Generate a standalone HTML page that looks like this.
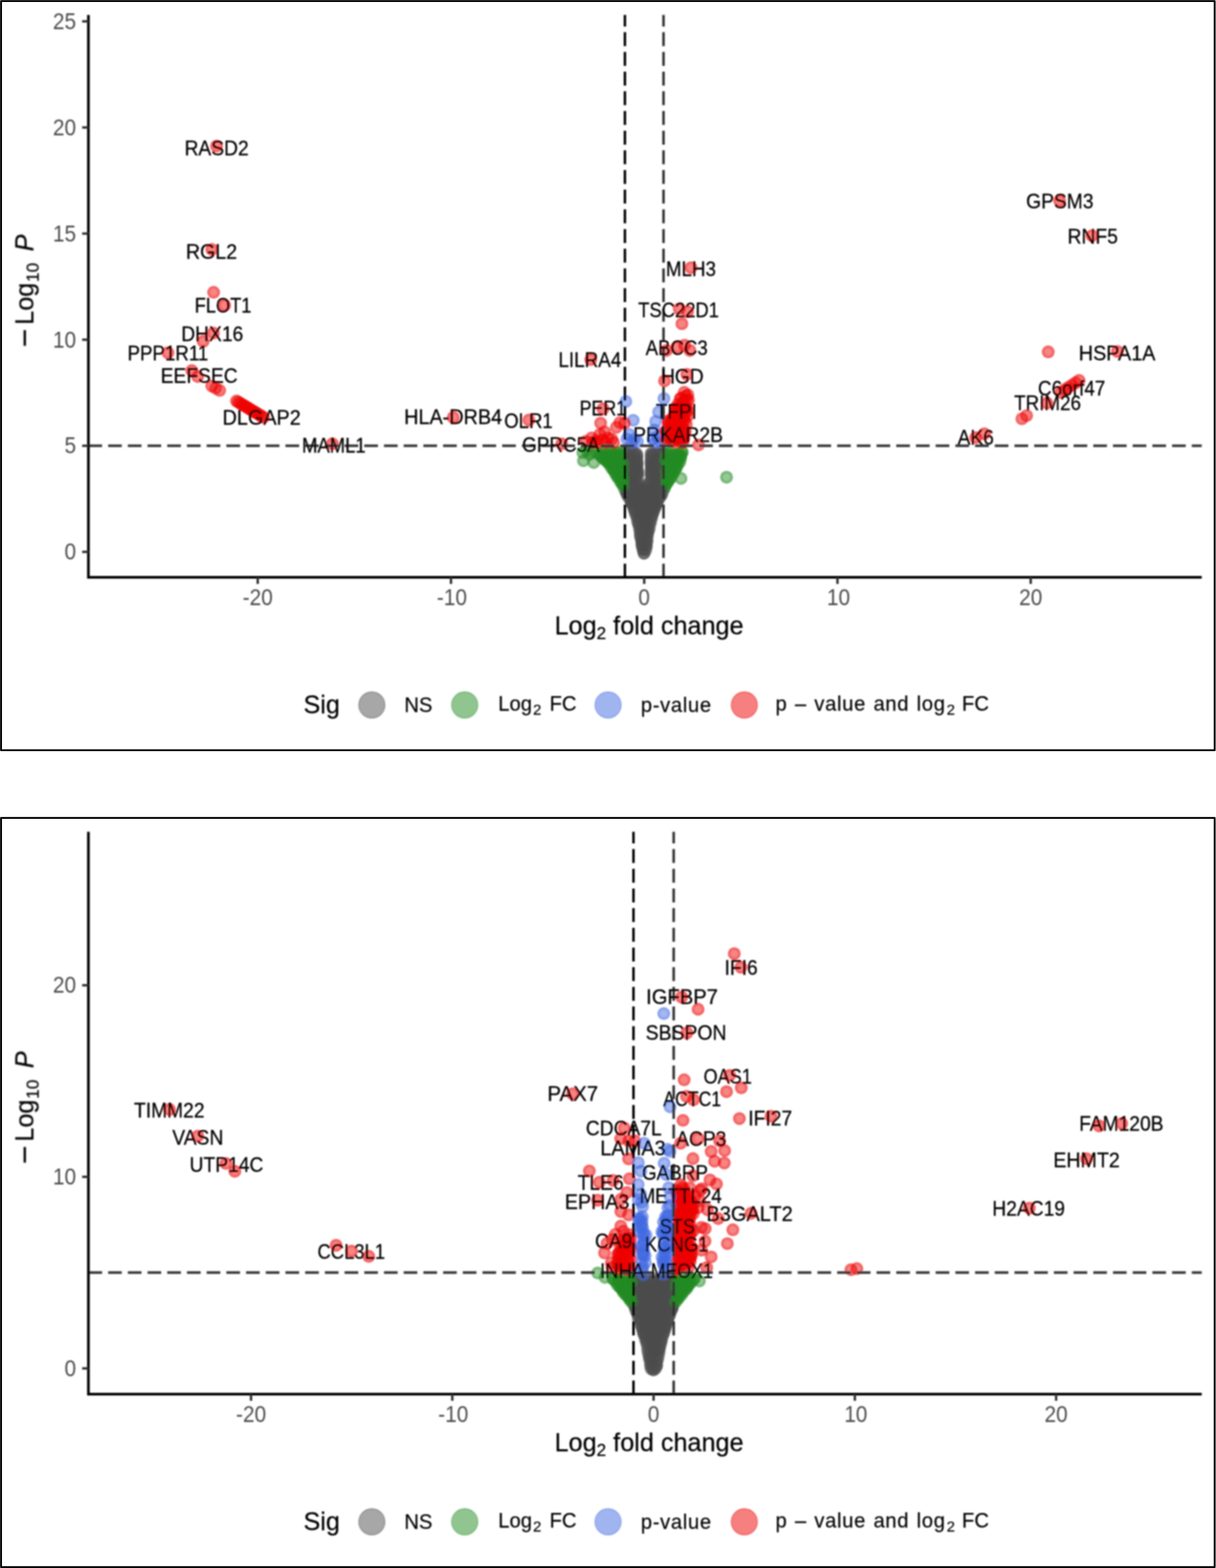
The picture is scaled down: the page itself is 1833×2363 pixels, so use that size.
<!DOCTYPE html>
<html lang="en"><head><meta charset="utf-8"><title>Volcano plots</title>
<style>
html,body{margin:0;padding:0;background:#fff;}
body{width:1833px;height:2363px;overflow:hidden;}
svg{display:block;font-family:"Liberation Sans", sans-serif;}
.border{fill:none;stroke:#000;stroke-width:2.8;stroke-linejoin:round;}
.axis{fill:none;stroke:#000;stroke-width:4;stroke-linecap:butt;stroke-linejoin:miter;}
.tick{stroke:#2b2b2b;stroke-width:3.5;}
.dash{stroke:#111;stroke-width:3.5;stroke-dasharray:21 8.66;}
.dl{stroke:#000;stroke-width:3.7;}
.dr{stroke:#333;stroke-width:3.8;}
.dh{stroke:#3a3a3a;stroke-width:3.9;stroke-dasharray:20.6 9.1;}
.ytl{font-size:31.4px;fill:#4d4d4d;text-anchor:end;}
.xtl{font-size:31.4px;fill:#4d4d4d;text-anchor:middle;}
.ttl{font-size:38px;fill:#000;stroke:#000;stroke-width:.3;}
.sub{font-size:26px;}
.leg{font-size:30.5px;fill:#000;stroke:#000;stroke-width:.25;}
.subl{font-size:22.5px;}
.lc{letter-spacing:1px;word-spacing:1.8px;}
.mn{font-size:48px;}

.lab{font-size:29px;fill:#000;text-anchor:middle;stroke:#000;stroke-width:.35;}
.g0{fill:#4d4d4d;stroke:#4d4d4d;}
.g1{fill:#228b22;stroke:#228b22;}
.g2{fill:#4169e1;stroke:#4169e1;}
.g3{fill:#ee0000;stroke:#ee0000;}
.lg{fill-opacity:.5;stroke-opacity:.4;stroke-width:1.6;}
.p0{fill:url(#r0);}
.p1{fill:url(#r1);}
.p2{fill:url(#r2);}
.p3{fill:url(#r3);}
.chart{filter:url(#bl);}
</style></head>
<body>
<svg width="1833" height="2363" viewBox="0 0 1833 2363">
<defs><radialGradient id="r0"><stop offset="0" stop-color="#4d4d4d" stop-opacity=".48"/><stop offset=".5" stop-color="#4d4d4d" stop-opacity=".48"/><stop offset=".64" stop-color="#4d4d4d" stop-opacity=".6"/><stop offset="1" stop-color="#4d4d4d" stop-opacity=".6"/></radialGradient><radialGradient id="r1"><stop offset="0" stop-color="#228b22" stop-opacity=".48"/><stop offset=".5" stop-color="#228b22" stop-opacity=".48"/><stop offset=".64" stop-color="#228b22" stop-opacity=".6"/><stop offset="1" stop-color="#228b22" stop-opacity=".6"/></radialGradient><radialGradient id="r2"><stop offset="0" stop-color="#4169e1" stop-opacity=".48"/><stop offset=".5" stop-color="#4169e1" stop-opacity=".48"/><stop offset=".64" stop-color="#4169e1" stop-opacity=".6"/><stop offset="1" stop-color="#4169e1" stop-opacity=".6"/></radialGradient><radialGradient id="r3"><stop offset="0" stop-color="#ee0000" stop-opacity=".48"/><stop offset=".5" stop-color="#ee0000" stop-opacity=".48"/><stop offset=".64" stop-color="#ee0000" stop-opacity=".6"/><stop offset="1" stop-color="#ee0000" stop-opacity=".6"/></radialGradient><filter id="bl" x="0" y="0" width="1833" height="2363" filterUnits="userSpaceOnUse"><feGaussianBlur stdDeviation="0.9"/></filter></defs>
<rect x="0" y="0" width="1833" height="2363" fill="#fff"/>
<g class="chart">
<circle class="p1" cx="939.6" cy="687.6" r="9.7"/>
<circle class="p1" cx="941.9" cy="687.9" r="9.7"/>
<circle class="p1" cx="939.6" cy="690.6" r="9.7"/>
<circle class="p1" cx="1001.1" cy="692.4" r="9.7"/>
<circle class="p1" cx="939.1" cy="695.5" r="9.7"/>
<circle class="p1" cx="941.2" cy="699.6" r="9.7"/>
<circle class="p1" cx="1001.4" cy="701.8" r="9.7"/>
<circle class="p1" cx="939.6" cy="705.6" r="9.7"/>
<circle class="p1" cx="1002.3" cy="702.9" r="9.7"/>
<circle class="p1" cx="1003.0" cy="709.9" r="9.7"/>
<circle class="p1" cx="939.7" cy="712.4" r="9.7"/>
<circle class="p1" cx="1001.8" cy="712.7" r="9.7"/>
<circle class="p1" cx="939.3" cy="720.3" r="9.7"/>
<circle class="p1" cx="1002.9" cy="720.6" r="9.7"/>
<circle class="p1" cx="941.4" cy="729.4" r="9.7"/>
<circle class="p1" cx="940.9" cy="731.2" r="9.7"/>
<circle class="p1" cx="1001.7" cy="734.1" r="9.7"/>
<circle class="p1" cx="941.6" cy="737.4" r="9.7"/>
<circle class="p1" cx="1001.0" cy="737.0" r="9.7"/>
<circle class="p1" cx="1003.0" cy="732.0" r="9.7"/>
<circle class="p0" cx="942.4" cy="681.8" r="9.7"/>
<circle class="p0" cx="946.2" cy="682.9" r="9.7"/>
<circle class="p0" cx="952.2" cy="681.6" r="9.7"/>
<circle class="p0" cx="955.6" cy="681.8" r="9.7"/>
<circle class="p0" cx="982.9" cy="683.6" r="9.7"/>
<circle class="p0" cx="990.3" cy="681.6" r="9.7"/>
<circle class="p0" cx="999.3" cy="682.5" r="9.7"/>
<circle class="p0" cx="946.4" cy="687.9" r="9.7"/>
<circle class="p0" cx="952.6" cy="685.7" r="9.7"/>
<circle class="p0" cx="957.6" cy="688.2" r="9.7"/>
<circle class="p0" cx="986.1" cy="685.5" r="9.7"/>
<circle class="p0" cx="989.6" cy="685.1" r="9.7"/>
<circle class="p0" cx="993.6" cy="684.4" r="9.7"/>
<circle class="p0" cx="997.8" cy="684.4" r="9.7"/>
<circle class="p0" cx="944.0" cy="689.0" r="9.7"/>
<circle class="p0" cx="949.7" cy="689.9" r="9.7"/>
<circle class="p0" cx="955.5" cy="691.1" r="9.7"/>
<circle class="p0" cx="988.9" cy="691.5" r="9.7"/>
<circle class="p0" cx="992.9" cy="692.3" r="9.7"/>
<circle class="p0" cx="995.0" cy="691.1" r="9.7"/>
<circle class="p0" cx="943.5" cy="694.0" r="9.7"/>
<circle class="p0" cx="949.8" cy="694.4" r="9.7"/>
<circle class="p0" cx="954.8" cy="697.4" r="9.7"/>
<circle class="p0" cx="955.4" cy="695.4" r="9.7"/>
<circle class="p0" cx="986.9" cy="694.1" r="9.7"/>
<circle class="p0" cx="990.9" cy="695.6" r="9.7"/>
<circle class="p0" cx="995.8" cy="696.4" r="9.7"/>
<circle class="p0" cx="997.7" cy="697.2" r="9.7"/>
<circle class="p0" cx="945.1" cy="701.2" r="9.7"/>
<circle class="p0" cx="952.5" cy="699.2" r="9.7"/>
<circle class="p0" cx="955.7" cy="699.4" r="9.7"/>
<circle class="p0" cx="959.9" cy="699.8" r="9.7"/>
<circle class="p0" cx="982.5" cy="698.7" r="9.7"/>
<circle class="p0" cx="986.0" cy="698.5" r="9.7"/>
<circle class="p0" cx="991.2" cy="698.5" r="9.7"/>
<circle class="p0" cx="995.4" cy="699.2" r="9.7"/>
<circle class="p0" cx="942.0" cy="703.0" r="9.7"/>
<circle class="p0" cx="948.3" cy="705.1" r="9.7"/>
<circle class="p0" cx="952.3" cy="703.7" r="9.7"/>
<circle class="p0" cx="957.8" cy="702.8" r="9.7"/>
<circle class="p0" cx="982.3" cy="705.6" r="9.7"/>
<circle class="p0" cx="984.2" cy="702.8" r="9.7"/>
<circle class="p0" cx="989.6" cy="705.5" r="9.7"/>
<circle class="p0" cx="993.9" cy="703.8" r="9.7"/>
<circle class="p0" cx="999.5" cy="706.6" r="9.7"/>
<circle class="p0" cx="943.2" cy="708.2" r="9.7"/>
<circle class="p0" cx="945.3" cy="710.7" r="9.7"/>
<circle class="p0" cx="951.8" cy="709.1" r="9.7"/>
<circle class="p0" cx="953.2" cy="709.3" r="9.7"/>
<circle class="p0" cx="959.2" cy="711.1" r="9.7"/>
<circle class="p0" cx="989.0" cy="708.4" r="9.7"/>
<circle class="p0" cx="992.9" cy="711.1" r="9.7"/>
<circle class="p0" cx="995.8" cy="708.5" r="9.7"/>
<circle class="p0" cx="945.0" cy="713.1" r="9.7"/>
<circle class="p0" cx="948.5" cy="713.5" r="9.7"/>
<circle class="p0" cx="953.8" cy="712.8" r="9.7"/>
<circle class="p0" cx="956.4" cy="712.9" r="9.7"/>
<circle class="p0" cx="960.6" cy="715.6" r="9.7"/>
<circle class="p0" cx="981.7" cy="714.6" r="9.7"/>
<circle class="p0" cx="987.0" cy="712.4" r="9.7"/>
<circle class="p0" cx="989.5" cy="715.3" r="9.7"/>
<circle class="p0" cx="995.6" cy="715.7" r="9.7"/>
<circle class="p0" cx="996.9" cy="713.1" r="9.7"/>
<circle class="p0" cx="945.6" cy="719.9" r="9.7"/>
<circle class="p0" cx="950.1" cy="720.2" r="9.7"/>
<circle class="p0" cx="954.9" cy="717.2" r="9.7"/>
<circle class="p0" cx="957.7" cy="718.8" r="9.7"/>
<circle class="p0" cx="982.8" cy="720.4" r="9.7"/>
<circle class="p0" cx="985.7" cy="718.6" r="9.7"/>
<circle class="p0" cx="993.2" cy="720.5" r="9.7"/>
<circle class="p0" cx="995.2" cy="717.1" r="9.7"/>
<circle class="p0" cx="944.2" cy="721.5" r="9.7"/>
<circle class="p0" cx="949.2" cy="724.3" r="9.7"/>
<circle class="p0" cx="952.8" cy="721.4" r="9.7"/>
<circle class="p0" cx="957.4" cy="722.7" r="9.7"/>
<circle class="p0" cx="980.4" cy="725.1" r="9.7"/>
<circle class="p0" cx="986.7" cy="721.8" r="9.7"/>
<circle class="p0" cx="990.8" cy="725.0" r="9.7"/>
<circle class="p0" cx="992.4" cy="722.6" r="9.7"/>
<circle class="p0" cx="999.9" cy="721.8" r="9.7"/>
<circle class="p0" cx="944.4" cy="726.7" r="9.7"/>
<circle class="p0" cx="951.1" cy="725.8" r="9.7"/>
<circle class="p0" cx="953.0" cy="727.2" r="9.7"/>
<circle class="p0" cx="958.1" cy="727.2" r="9.7"/>
<circle class="p0" cx="963.2" cy="728.1" r="9.7"/>
<circle class="p0" cx="976.6" cy="729.6" r="9.7"/>
<circle class="p0" cx="981.6" cy="726.3" r="9.7"/>
<circle class="p0" cx="985.6" cy="728.4" r="9.7"/>
<circle class="p0" cx="993.4" cy="729.0" r="9.7"/>
<circle class="p0" cx="996.1" cy="726.8" r="9.7"/>
<circle class="p0" cx="999.1" cy="728.4" r="9.7"/>
<circle class="p0" cx="945.2" cy="730.4" r="9.7"/>
<circle class="p0" cx="947.2" cy="731.3" r="9.7"/>
<circle class="p0" cx="953.8" cy="734.2" r="9.7"/>
<circle class="p0" cx="958.4" cy="731.7" r="9.7"/>
<circle class="p0" cx="963.6" cy="731.7" r="9.7"/>
<circle class="p0" cx="965.5" cy="734.1" r="9.7"/>
<circle class="p0" cx="976.5" cy="734.4" r="9.7"/>
<circle class="p0" cx="980.3" cy="733.8" r="9.7"/>
<circle class="p0" cx="985.8" cy="733.9" r="9.7"/>
<circle class="p0" cx="989.3" cy="733.3" r="9.7"/>
<circle class="p0" cx="994.5" cy="731.6" r="9.7"/>
<circle class="p0" cx="997.6" cy="732.9" r="9.7"/>
<circle class="p0" cx="945.3" cy="737.8" r="9.7"/>
<circle class="p0" cx="950.7" cy="735.8" r="9.7"/>
<circle class="p0" cx="956.6" cy="735.3" r="9.7"/>
<circle class="p0" cx="961.0" cy="735.6" r="9.7"/>
<circle class="p0" cx="962.2" cy="735.8" r="9.7"/>
<circle class="p0" cx="970.0" cy="739.0" r="9.7"/>
<circle class="p0" cx="971.4" cy="737.0" r="9.7"/>
<circle class="p0" cx="978.1" cy="738.2" r="9.7"/>
<circle class="p0" cx="981.4" cy="737.0" r="9.7"/>
<circle class="p0" cx="986.7" cy="738.4" r="9.7"/>
<circle class="p0" cx="990.9" cy="738.8" r="9.7"/>
<circle class="p0" cx="995.6" cy="735.8" r="9.7"/>
<circle class="p0" cx="946.6" cy="741.1" r="9.7"/>
<circle class="p0" cx="954.8" cy="742.8" r="9.7"/>
<circle class="p0" cx="958.4" cy="741.3" r="9.7"/>
<circle class="p0" cx="960.7" cy="742.2" r="9.7"/>
<circle class="p0" cx="965.0" cy="740.4" r="9.7"/>
<circle class="p0" cx="970.7" cy="739.7" r="9.7"/>
<circle class="p0" cx="975.4" cy="742.8" r="9.7"/>
<circle class="p0" cx="981.2" cy="741.6" r="9.7"/>
<circle class="p0" cx="985.5" cy="741.4" r="9.7"/>
<circle class="p0" cx="988.1" cy="742.0" r="9.7"/>
<circle class="p0" cx="993.8" cy="742.6" r="9.7"/>
<circle class="p0" cx="945.3" cy="744.4" r="9.7"/>
<circle class="p0" cx="949.6" cy="745.8" r="9.7"/>
<circle class="p0" cx="953.1" cy="745.9" r="9.7"/>
<circle class="p0" cx="959.4" cy="747.0" r="9.7"/>
<circle class="p0" cx="963.7" cy="745.2" r="9.7"/>
<circle class="p0" cx="967.8" cy="747.2" r="9.7"/>
<circle class="p0" cx="975.3" cy="746.3" r="9.7"/>
<circle class="p0" cx="976.9" cy="747.4" r="9.7"/>
<circle class="p0" cx="982.3" cy="745.0" r="9.7"/>
<circle class="p0" cx="985.8" cy="747.3" r="9.7"/>
<circle class="p0" cx="993.2" cy="746.8" r="9.7"/>
<circle class="p0" cx="996.4" cy="746.5" r="9.7"/>
<circle class="p0" cx="952.9" cy="751.8" r="9.7"/>
<circle class="p0" cx="957.1" cy="752.4" r="9.7"/>
<circle class="p0" cx="962.2" cy="749.8" r="9.7"/>
<circle class="p0" cx="965.5" cy="749.3" r="9.7"/>
<circle class="p0" cx="971.2" cy="749.0" r="9.7"/>
<circle class="p0" cx="975.7" cy="749.3" r="9.7"/>
<circle class="p0" cx="980.4" cy="750.8" r="9.7"/>
<circle class="p0" cx="985.2" cy="752.3" r="9.7"/>
<circle class="p0" cx="987.6" cy="752.2" r="9.7"/>
<circle class="p0" cx="952.2" cy="755.9" r="9.7"/>
<circle class="p0" cx="955.6" cy="755.9" r="9.7"/>
<circle class="p0" cx="960.5" cy="755.8" r="9.7"/>
<circle class="p0" cx="965.0" cy="754.2" r="9.7"/>
<circle class="p0" cx="969.6" cy="755.2" r="9.7"/>
<circle class="p0" cx="974.6" cy="753.7" r="9.7"/>
<circle class="p0" cx="976.8" cy="753.5" r="9.7"/>
<circle class="p0" cx="983.8" cy="757.1" r="9.7"/>
<circle class="p0" cx="987.9" cy="754.9" r="9.7"/>
<circle class="p0" cx="952.7" cy="758.2" r="9.7"/>
<circle class="p0" cx="956.9" cy="760.3" r="9.7"/>
<circle class="p0" cx="961.7" cy="760.7" r="9.7"/>
<circle class="p0" cx="965.1" cy="761.2" r="9.7"/>
<circle class="p0" cx="970.6" cy="760.6" r="9.7"/>
<circle class="p0" cx="976.3" cy="759.7" r="9.7"/>
<circle class="p0" cx="979.9" cy="761.2" r="9.7"/>
<circle class="p0" cx="986.8" cy="761.2" r="9.7"/>
<circle class="p0" cx="989.9" cy="759.1" r="9.7"/>
<circle class="p0" cx="959.1" cy="764.9" r="9.7"/>
<circle class="p0" cx="963.9" cy="764.7" r="9.7"/>
<circle class="p0" cx="967.4" cy="762.7" r="9.7"/>
<circle class="p0" cx="975.6" cy="764.1" r="9.7"/>
<circle class="p0" cx="976.5" cy="765.1" r="9.7"/>
<circle class="p0" cx="983.9" cy="763.2" r="9.7"/>
<circle class="p0" cx="987.7" cy="764.0" r="9.7"/>
<circle class="p0" cx="956.3" cy="767.7" r="9.7"/>
<circle class="p0" cx="962.7" cy="767.2" r="9.7"/>
<circle class="p0" cx="967.5" cy="767.9" r="9.7"/>
<circle class="p0" cx="969.3" cy="771.0" r="9.7"/>
<circle class="p0" cx="974.6" cy="771.0" r="9.7"/>
<circle class="p0" cx="981.9" cy="770.8" r="9.7"/>
<circle class="p0" cx="983.5" cy="769.0" r="9.7"/>
<circle class="p0" cx="960.1" cy="773.8" r="9.7"/>
<circle class="p0" cx="963.4" cy="772.6" r="9.7"/>
<circle class="p0" cx="969.4" cy="774.7" r="9.7"/>
<circle class="p0" cx="974.8" cy="774.1" r="9.7"/>
<circle class="p0" cx="976.9" cy="772.0" r="9.7"/>
<circle class="p0" cx="983.7" cy="773.4" r="9.7"/>
<circle class="p0" cx="963.3" cy="780.2" r="9.7"/>
<circle class="p0" cx="966.1" cy="778.1" r="9.7"/>
<circle class="p0" cx="972.6" cy="778.5" r="9.7"/>
<circle class="p0" cx="975.4" cy="780.2" r="9.7"/>
<circle class="p0" cx="981.5" cy="777.7" r="9.7"/>
<circle class="p0" cx="963.5" cy="781.9" r="9.7"/>
<circle class="p0" cx="967.7" cy="783.1" r="9.7"/>
<circle class="p0" cx="973.0" cy="783.4" r="9.7"/>
<circle class="p0" cx="976.1" cy="782.4" r="9.7"/>
<circle class="p0" cx="964.6" cy="785.7" r="9.7"/>
<circle class="p0" cx="971.5" cy="787.6" r="9.7"/>
<circle class="p0" cx="977.5" cy="788.7" r="9.7"/>
<circle class="p0" cx="962.6" cy="790.8" r="9.7"/>
<circle class="p0" cx="969.0" cy="793.5" r="9.7"/>
<circle class="p0" cx="974.0" cy="793.5" r="9.7"/>
<circle class="p0" cx="976.3" cy="790.2" r="9.7"/>
<circle class="p0" cx="965.4" cy="798.7" r="9.7"/>
<circle class="p0" cx="971.2" cy="795.7" r="9.7"/>
<circle class="p0" cx="975.6" cy="795.3" r="9.7"/>
<circle class="p0" cx="968.3" cy="799.3" r="9.7"/>
<circle class="p0" cx="974.9" cy="802.5" r="9.7"/>
<circle class="p0" cx="977.2" cy="799.5" r="9.7"/>
<circle class="p0" cx="965.3" cy="806.8" r="9.7"/>
<circle class="p0" cx="971.0" cy="804.4" r="9.7"/>
<circle class="p0" cx="975.1" cy="805.9" r="9.7"/>
<circle class="p0" cx="969.0" cy="810.3" r="9.7"/>
<circle class="p0" cx="972.8" cy="810.3" r="9.7"/>
<circle class="p0" cx="967.7" cy="813.7" r="9.7"/>
<circle class="p0" cx="972.3" cy="813.4" r="9.7"/>
<circle class="p0" cx="974.7" cy="814.7" r="9.7"/>
<circle class="p0" cx="967.5" cy="819.2" r="9.7"/>
<circle class="p0" cx="973.4" cy="820.1" r="9.7"/>
<circle class="p0" cx="968.3" cy="823.5" r="9.7"/>
<circle class="p0" cx="970.2" cy="822.4" r="9.7"/>
<circle class="p0" cx="974.4" cy="823.4" r="9.7"/>
<circle class="p0" cx="970.0" cy="828.4" r="9.7"/>
<circle class="p0" cx="971.0" cy="833.5" r="9.7"/>
<circle class="p0" cx="969.2" cy="828.5" r="9.7"/>
<circle class="p0" cx="967.8" cy="822.1" r="9.7"/>
<circle class="p0" cx="967.2" cy="815.4" r="9.7"/>
<circle class="p0" cx="965.5" cy="809.7" r="9.7"/>
<circle class="p0" cx="964.9" cy="803.1" r="9.7"/>
<circle class="p0" cx="964.0" cy="797.0" r="9.7"/>
<circle class="p0" cx="962.8" cy="789.6" r="9.7"/>
<circle class="p0" cx="960.9" cy="785.5" r="9.7"/>
<circle class="p0" cx="960.1" cy="779.6" r="9.7"/>
<circle class="p0" cx="958.0" cy="774.7" r="9.7"/>
<circle class="p0" cx="956.6" cy="769.8" r="9.7"/>
<circle class="p0" cx="955.5" cy="765.6" r="9.7"/>
<circle class="p0" cx="953.2" cy="760.7" r="9.7"/>
<circle class="p0" cx="951.3" cy="757.4" r="9.7"/>
<circle class="p0" cx="949.7" cy="752.3" r="9.7"/>
<circle class="p0" cx="946.6" cy="748.1" r="9.7"/>
<circle class="p0" cx="944.0" cy="742.7" r="9.7"/>
<circle class="p0" cx="970.6" cy="833.7" r="9.7"/>
<circle class="p0" cx="973.6" cy="828.7" r="9.7"/>
<circle class="p0" cx="974.1" cy="821.9" r="9.7"/>
<circle class="p0" cx="975.5" cy="815.8" r="9.7"/>
<circle class="p0" cx="975.8" cy="808.9" r="9.7"/>
<circle class="p0" cx="976.7" cy="803.2" r="9.7"/>
<circle class="p0" cx="978.7" cy="796.7" r="9.7"/>
<circle class="p0" cx="980.1" cy="789.6" r="9.7"/>
<circle class="p0" cx="980.9" cy="784.9" r="9.7"/>
<circle class="p0" cx="982.5" cy="780.0" r="9.7"/>
<circle class="p0" cx="983.3" cy="775.3" r="9.7"/>
<circle class="p0" cx="985.7" cy="770.1" r="9.7"/>
<circle class="p0" cx="987.1" cy="765.5" r="9.7"/>
<circle class="p0" cx="988.5" cy="761.1" r="9.7"/>
<circle class="p0" cx="990.8" cy="757.3" r="9.7"/>
<circle class="p0" cx="992.8" cy="752.4" r="9.7"/>
<circle class="p0" cx="995.6" cy="748.1" r="9.7"/>
<circle class="p0" cx="998.3" cy="743.4" r="9.7"/>
<circle class="p0" cx="961.8" cy="716.6" r="9.7"/>
<circle class="p0" cx="960.2" cy="713.8" r="9.7"/>
<circle class="p0" cx="961.8" cy="711.0" r="9.7"/>
<circle class="p0" cx="960.8" cy="708.2" r="9.7"/>
<circle class="p0" cx="959.5" cy="705.4" r="9.7"/>
<circle class="p0" cx="960.1" cy="702.6" r="9.7"/>
<circle class="p0" cx="960.5" cy="699.8" r="9.7"/>
<circle class="p0" cx="960.1" cy="697.0" r="9.7"/>
<circle class="p0" cx="960.4" cy="694.2" r="9.7"/>
<circle class="p0" cx="959.7" cy="691.5" r="9.7"/>
<circle class="p0" cx="959.4" cy="688.8" r="9.7"/>
<circle class="p0" cx="960.5" cy="686.1" r="9.7"/>
<circle class="p0" cx="959.2" cy="683.4" r="9.7"/>
<circle class="p0" cx="981.6" cy="716.6" r="9.7"/>
<circle class="p0" cx="982.0" cy="713.8" r="9.7"/>
<circle class="p0" cx="981.6" cy="711.0" r="9.7"/>
<circle class="p0" cx="981.4" cy="708.2" r="9.7"/>
<circle class="p0" cx="982.6" cy="705.4" r="9.7"/>
<circle class="p0" cx="981.6" cy="702.6" r="9.7"/>
<circle class="p0" cx="982.7" cy="699.8" r="9.7"/>
<circle class="p0" cx="980.8" cy="697.0" r="9.7"/>
<circle class="p0" cx="981.8" cy="694.2" r="9.7"/>
<circle class="p0" cx="982.4" cy="691.5" r="9.7"/>
<circle class="p0" cx="981.2" cy="688.8" r="9.7"/>
<circle class="p0" cx="983.3" cy="686.1" r="9.7"/>
<circle class="p0" cx="981.5" cy="683.4" r="9.7"/>
<circle class="p1" cx="907.0" cy="683.0" r="9.7"/>
<circle class="p1" cx="912.3" cy="681.7" r="9.7"/>
<circle class="p1" cx="919.2" cy="682.0" r="9.7"/>
<circle class="p1" cx="922.2" cy="681.9" r="9.7"/>
<circle class="p1" cx="927.7" cy="683.0" r="9.7"/>
<circle class="p1" cx="930.5" cy="682.0" r="9.7"/>
<circle class="p1" cx="935.7" cy="680.9" r="9.7"/>
<circle class="p1" cx="1006.9" cy="683.4" r="9.7"/>
<circle class="p1" cx="1008.9" cy="682.7" r="9.7"/>
<circle class="p1" cx="1021.1" cy="683.7" r="9.7"/>
<circle class="p1" cx="1022.9" cy="683.7" r="9.7"/>
<circle class="p1" cx="1028.3" cy="681.7" r="9.7"/>
<circle class="p1" cx="906.5" cy="688.1" r="9.7"/>
<circle class="p1" cx="912.7" cy="685.4" r="9.7"/>
<circle class="p1" cx="914.5" cy="688.1" r="9.7"/>
<circle class="p1" cx="920.9" cy="687.2" r="9.7"/>
<circle class="p1" cx="923.5" cy="684.6" r="9.7"/>
<circle class="p1" cx="930.6" cy="686.1" r="9.7"/>
<circle class="p1" cx="932.6" cy="688.2" r="9.7"/>
<circle class="p1" cx="1004.4" cy="686.6" r="9.7"/>
<circle class="p1" cx="1006.7" cy="686.3" r="9.7"/>
<circle class="p1" cx="1014.4" cy="684.8" r="9.7"/>
<circle class="p1" cx="1018.5" cy="686.1" r="9.7"/>
<circle class="p1" cx="1021.8" cy="687.8" r="9.7"/>
<circle class="p1" cx="1026.0" cy="686.4" r="9.7"/>
<circle class="p1" cx="911.1" cy="691.2" r="9.7"/>
<circle class="p1" cx="912.6" cy="692.9" r="9.7"/>
<circle class="p1" cx="917.5" cy="690.4" r="9.7"/>
<circle class="p1" cx="920.8" cy="690.5" r="9.7"/>
<circle class="p1" cx="927.4" cy="691.0" r="9.7"/>
<circle class="p1" cx="930.9" cy="691.0" r="9.7"/>
<circle class="p1" cx="934.7" cy="690.0" r="9.7"/>
<circle class="p1" cx="1007.0" cy="692.4" r="9.7"/>
<circle class="p1" cx="1010.6" cy="692.6" r="9.7"/>
<circle class="p1" cx="1015.7" cy="691.8" r="9.7"/>
<circle class="p1" cx="1018.4" cy="689.1" r="9.7"/>
<circle class="p1" cx="1022.6" cy="690.4" r="9.7"/>
<circle class="p1" cx="917.0" cy="694.8" r="9.7"/>
<circle class="p1" cx="920.9" cy="693.6" r="9.7"/>
<circle class="p1" cx="923.4" cy="694.6" r="9.7"/>
<circle class="p1" cx="930.5" cy="696.4" r="9.7"/>
<circle class="p1" cx="935.1" cy="694.7" r="9.7"/>
<circle class="p1" cx="1003.3" cy="693.6" r="9.7"/>
<circle class="p1" cx="1005.9" cy="695.6" r="9.7"/>
<circle class="p1" cx="1012.4" cy="694.8" r="9.7"/>
<circle class="p1" cx="1015.7" cy="695.0" r="9.7"/>
<circle class="p1" cx="1021.0" cy="697.0" r="9.7"/>
<circle class="p1" cx="919.2" cy="698.3" r="9.7"/>
<circle class="p1" cx="923.9" cy="700.0" r="9.7"/>
<circle class="p1" cx="928.5" cy="700.8" r="9.7"/>
<circle class="p1" cx="931.2" cy="698.3" r="9.7"/>
<circle class="p1" cx="938.5" cy="698.7" r="9.7"/>
<circle class="p1" cx="1006.7" cy="699.8" r="9.7"/>
<circle class="p1" cx="1009.9" cy="700.3" r="9.7"/>
<circle class="p1" cx="1014.4" cy="699.5" r="9.7"/>
<circle class="p1" cx="1017.7" cy="699.3" r="9.7"/>
<circle class="p1" cx="924.1" cy="706.5" r="9.7"/>
<circle class="p1" cx="930.4" cy="704.0" r="9.7"/>
<circle class="p1" cx="932.9" cy="703.8" r="9.7"/>
<circle class="p1" cx="1007.3" cy="704.5" r="9.7"/>
<circle class="p1" cx="1013.4" cy="703.6" r="9.7"/>
<circle class="p1" cx="1018.4" cy="705.8" r="9.7"/>
<circle class="p1" cx="926.1" cy="707.3" r="9.7"/>
<circle class="p1" cx="931.2" cy="708.8" r="9.7"/>
<circle class="p1" cx="938.6" cy="707.8" r="9.7"/>
<circle class="p1" cx="1004.7" cy="710.3" r="9.7"/>
<circle class="p1" cx="1009.5" cy="708.5" r="9.7"/>
<circle class="p1" cx="1012.8" cy="710.5" r="9.7"/>
<circle class="p1" cx="930.3" cy="714.7" r="9.7"/>
<circle class="p1" cx="935.4" cy="715.4" r="9.7"/>
<circle class="p1" cx="1010.0" cy="714.3" r="9.7"/>
<circle class="p1" cx="1014.4" cy="713.5" r="9.7"/>
<circle class="p1" cx="931.5" cy="717.3" r="9.7"/>
<circle class="p1" cx="937.6" cy="717.4" r="9.7"/>
<circle class="p1" cx="1005.6" cy="716.8" r="9.7"/>
<circle class="p1" cx="939.0" cy="721.3" r="9.7"/>
<circle class="p1" cx="1005.0" cy="722.3" r="9.7"/>
<circle class="p1" cx="1009.3" cy="721.7" r="9.7"/>
<circle class="p1" cx="937.2" cy="727.5" r="9.7"/>
<circle class="p1" cx="1006.0" cy="727.2" r="9.7"/>
<circle class="p1" cx="939.0" cy="731.6" r="9.7"/>
<circle class="p1" cx="936.1" cy="727.2" r="9.7"/>
<circle class="p1" cx="933.3" cy="722.2" r="9.7"/>
<circle class="p1" cx="930.3" cy="718.3" r="9.7"/>
<circle class="p1" cx="927.4" cy="713.3" r="9.7"/>
<circle class="p1" cx="925.1" cy="709.0" r="9.7"/>
<circle class="p1" cx="921.5" cy="704.6" r="9.7"/>
<circle class="p1" cx="918.9" cy="700.0" r="9.7"/>
<circle class="p1" cx="915.6" cy="696.5" r="9.7"/>
<circle class="p1" cx="911.0" cy="692.5" r="9.7"/>
<circle class="p1" cx="907.8" cy="689.2" r="9.7"/>
<circle class="p1" cx="903.2" cy="685.0" r="9.7"/>
<circle class="p1" cx="899.3" cy="681.9" r="9.7"/>
<circle class="p1" cx="1005.6" cy="727.7" r="9.7"/>
<circle class="p1" cx="1009.2" cy="722.5" r="9.7"/>
<circle class="p1" cx="1012.0" cy="718.6" r="9.7"/>
<circle class="p1" cx="1014.7" cy="713.2" r="9.7"/>
<circle class="p1" cx="1016.4" cy="709.4" r="9.7"/>
<circle class="p1" cx="1019.7" cy="705.1" r="9.7"/>
<circle class="p1" cx="1021.4" cy="700.5" r="9.7"/>
<circle class="p1" cx="1024.7" cy="696.3" r="9.7"/>
<circle class="p1" cx="1025.7" cy="691.5" r="9.7"/>
<circle class="p1" cx="1026.5" cy="687.1" r="9.7"/>
<circle class="p1" cx="1028.1" cy="681.6" r="9.7"/>
<circle class="p1" cx="879.5" cy="694.4" r="9.7"/>
<circle class="p1" cx="888.3" cy="684.7" r="9.7"/>
<circle class="p1" cx="1095.2" cy="719.2" r="9.7"/>
<circle class="p1" cx="1026.5" cy="721.0" r="9.7"/>
<circle class="p1" cx="878.5" cy="682.0" r="9.7"/>
<circle class="p1" cx="884.0" cy="678.5" r="9.7"/>
<circle class="p1" cx="895.0" cy="697.0" r="9.7"/>
<circle class="p1" cx="891.0" cy="681.0" r="9.7"/>
<circle class="p2" cx="943.4" cy="605.0" r="9.7"/>
<circle class="p2" cx="954.5" cy="633.4" r="9.7"/>
<circle class="p2" cx="948.5" cy="654.6" r="9.7"/>
<circle class="p2" cx="945.0" cy="661.7" r="9.7"/>
<circle class="p2" cx="960.9" cy="665.2" r="9.7"/>
<circle class="p2" cx="952.0" cy="667.0" r="9.7"/>
<circle class="p2" cx="956.0" cy="662.0" r="9.7"/>
<circle class="p2" cx="1000.8" cy="600.6" r="9.7"/>
<circle class="p2" cx="992.8" cy="620.9" r="9.7"/>
<circle class="p2" cx="988.4" cy="635.1" r="9.7"/>
<circle class="p2" cx="984.0" cy="661.7" r="9.7"/>
<circle class="p2" cx="991.0" cy="658.0" r="9.7"/>
<circle class="p2" cx="986.0" cy="648.0" r="9.7"/>
<circle class="p2" cx="994.0" cy="664.0" r="9.7"/>
<circle class="p2" cx="988.0" cy="667.0" r="9.7"/>
<circle class="p3" cx="1031.5" cy="591.3" r="9.7"/>
<circle class="p3" cx="1036.9" cy="595.2" r="9.7"/>
<circle class="p3" cx="1026.5" cy="599.8" r="9.7"/>
<circle class="p3" cx="1034.1" cy="596.8" r="9.7"/>
<circle class="p3" cx="1025.3" cy="601.2" r="9.7"/>
<circle class="p3" cx="1030.2" cy="604.3" r="9.7"/>
<circle class="p3" cx="1035.4" cy="602.8" r="9.7"/>
<circle class="p3" cx="1037.9" cy="603.1" r="9.7"/>
<circle class="p3" cx="1021.7" cy="609.5" r="9.7"/>
<circle class="p3" cx="1029.2" cy="607.9" r="9.7"/>
<circle class="p3" cx="1030.9" cy="606.2" r="9.7"/>
<circle class="p3" cx="1018.8" cy="614.7" r="9.7"/>
<circle class="p3" cx="1025.0" cy="614.8" r="9.7"/>
<circle class="p3" cx="1027.8" cy="615.0" r="9.7"/>
<circle class="p3" cx="1034.9" cy="614.3" r="9.7"/>
<circle class="p3" cx="1019.3" cy="616.1" r="9.7"/>
<circle class="p3" cx="1022.9" cy="616.8" r="9.7"/>
<circle class="p3" cx="1027.9" cy="619.3" r="9.7"/>
<circle class="p3" cx="1033.4" cy="616.0" r="9.7"/>
<circle class="p3" cx="1036.4" cy="618.4" r="9.7"/>
<circle class="p3" cx="1017.0" cy="622.6" r="9.7"/>
<circle class="p3" cx="1019.6" cy="621.1" r="9.7"/>
<circle class="p3" cx="1023.9" cy="624.1" r="9.7"/>
<circle class="p3" cx="1030.8" cy="621.4" r="9.7"/>
<circle class="p3" cx="1034.3" cy="621.4" r="9.7"/>
<circle class="p3" cx="1013.8" cy="629.8" r="9.7"/>
<circle class="p3" cx="1018.6" cy="628.6" r="9.7"/>
<circle class="p3" cx="1021.1" cy="628.6" r="9.7"/>
<circle class="p3" cx="1029.1" cy="629.3" r="9.7"/>
<circle class="p3" cx="1030.7" cy="629.0" r="9.7"/>
<circle class="p3" cx="1036.8" cy="626.5" r="9.7"/>
<circle class="p3" cx="1006.8" cy="634.1" r="9.7"/>
<circle class="p3" cx="1011.5" cy="634.4" r="9.7"/>
<circle class="p3" cx="1015.4" cy="632.7" r="9.7"/>
<circle class="p3" cx="1021.5" cy="634.3" r="9.7"/>
<circle class="p3" cx="1026.7" cy="632.1" r="9.7"/>
<circle class="p3" cx="1032.1" cy="633.1" r="9.7"/>
<circle class="p3" cx="1007.3" cy="636.8" r="9.7"/>
<circle class="p3" cx="1012.5" cy="639.8" r="9.7"/>
<circle class="p3" cx="1018.3" cy="638.9" r="9.7"/>
<circle class="p3" cx="1022.0" cy="639.3" r="9.7"/>
<circle class="p3" cx="1028.8" cy="638.8" r="9.7"/>
<circle class="p3" cx="1034.5" cy="639.5" r="9.7"/>
<circle class="p3" cx="1007.8" cy="641.2" r="9.7"/>
<circle class="p3" cx="1016.4" cy="642.6" r="9.7"/>
<circle class="p3" cx="1020.5" cy="642.8" r="9.7"/>
<circle class="p3" cx="1024.3" cy="641.7" r="9.7"/>
<circle class="p3" cx="1029.3" cy="644.6" r="9.7"/>
<circle class="p3" cx="1003.2" cy="649.4" r="9.7"/>
<circle class="p3" cx="1005.8" cy="648.8" r="9.7"/>
<circle class="p3" cx="1010.4" cy="649.5" r="9.7"/>
<circle class="p3" cx="1016.1" cy="647.0" r="9.7"/>
<circle class="p3" cx="1024.6" cy="647.4" r="9.7"/>
<circle class="p3" cx="1026.3" cy="649.8" r="9.7"/>
<circle class="p3" cx="1033.0" cy="649.8" r="9.7"/>
<circle class="p3" cx="1005.1" cy="650.8" r="9.7"/>
<circle class="p3" cx="1008.5" cy="655.0" r="9.7"/>
<circle class="p3" cx="1014.8" cy="654.4" r="9.7"/>
<circle class="p3" cx="1018.9" cy="652.3" r="9.7"/>
<circle class="p3" cx="1023.2" cy="653.2" r="9.7"/>
<circle class="p3" cx="1031.6" cy="653.1" r="9.7"/>
<circle class="p3" cx="1006.9" cy="658.7" r="9.7"/>
<circle class="p3" cx="1013.1" cy="657.4" r="9.7"/>
<circle class="p3" cx="1017.6" cy="658.8" r="9.7"/>
<circle class="p3" cx="1024.3" cy="658.0" r="9.7"/>
<circle class="p3" cx="1026.9" cy="660.1" r="9.7"/>
<circle class="p3" cx="1030.5" cy="659.5" r="9.7"/>
<circle class="p3" cx="1004.2" cy="661.4" r="9.7"/>
<circle class="p3" cx="1012.0" cy="664.8" r="9.7"/>
<circle class="p3" cx="1013.4" cy="663.4" r="9.7"/>
<circle class="p3" cx="1020.3" cy="661.0" r="9.7"/>
<circle class="p3" cx="1024.5" cy="664.1" r="9.7"/>
<circle class="p3" cx="1030.6" cy="662.0" r="9.7"/>
<circle class="p3" cx="1016.5" cy="666.5" r="9.7"/>
<circle class="p3" cx="1028.8" cy="667.3" r="9.7"/>
<circle class="p3" cx="326.4" cy="220.1" r="9.7"/>
<circle class="p3" cx="319.3" cy="376.0" r="9.7"/>
<circle class="p3" cx="322.0" cy="440.5" r="9.7"/>
<circle class="p3" cx="338.7" cy="460.1" r="9.7"/>
<circle class="p3" cx="321.7" cy="501.9" r="9.7"/>
<circle class="p3" cx="306.3" cy="514.4" r="9.7"/>
<circle class="p3" cx="253.2" cy="531.6" r="9.7"/>
<circle class="p3" cx="289.1" cy="558.5" r="9.7"/>
<circle class="p3" cx="298.0" cy="567.5" r="9.7"/>
<circle class="p3" cx="319.3" cy="581.7" r="9.7"/>
<circle class="p3" cx="331.1" cy="588.3" r="9.7"/>
<circle class="p3" cx="325.0" cy="585.0" r="9.7"/>
<circle class="p3" cx="501.1" cy="668.6" r="9.7"/>
<circle class="p3" cx="683.2" cy="629.2" r="9.7"/>
<circle class="p3" cx="797.2" cy="633.0" r="9.7"/>
<circle class="p3" cx="890.5" cy="541.9" r="9.7"/>
<circle class="p3" cx="909.0" cy="616.2" r="9.7"/>
<circle class="p3" cx="846.8" cy="668.9" r="9.7"/>
<circle class="p3" cx="1041.7" cy="403.4" r="9.7"/>
<circle class="p3" cx="1024.0" cy="465.4" r="9.7"/>
<circle class="p3" cx="1036.4" cy="469.8" r="9.7"/>
<circle class="p3" cx="1027.9" cy="487.9" r="9.7"/>
<circle class="p3" cx="1004.5" cy="528.2" r="9.7"/>
<circle class="p3" cx="1020.4" cy="522.9" r="9.7"/>
<circle class="p3" cx="1039.9" cy="528.2" r="9.7"/>
<circle class="p3" cx="1031.9" cy="520.3" r="9.7"/>
<circle class="p3" cx="1035.3" cy="564.3" r="9.7"/>
<circle class="p3" cx="1001.7" cy="574.0" r="9.7"/>
<circle class="p3" cx="1053.0" cy="670.5" r="9.7"/>
<circle class="p3" cx="1597.2" cy="302.6" r="9.7"/>
<circle class="p3" cx="1646.0" cy="355.2" r="9.7"/>
<circle class="p3" cx="1684.5" cy="529.6" r="9.7"/>
<circle class="p3" cx="1580.1" cy="530.3" r="9.7"/>
<circle class="p3" cx="1578.2" cy="607.5" r="9.7"/>
<circle class="p3" cx="1540.4" cy="631.1" r="9.7"/>
<circle class="p3" cx="1547.5" cy="626.4" r="9.7"/>
<circle class="p3" cx="1470.8" cy="659.5" r="9.7"/>
<circle class="p3" cx="1483.8" cy="653.6" r="9.7"/>
<circle class="p3" cx="905.4" cy="637.7" r="9.7"/>
<circle class="p3" cx="934.4" cy="636.9" r="9.7"/>
<circle class="p3" cx="929.1" cy="644.0" r="9.7"/>
<circle class="p3" cx="941.5" cy="637.8" r="9.7"/>
<circle class="p3" cx="891.9" cy="659.9" r="9.7"/>
<circle class="p3" cx="904.3" cy="654.6" r="9.7"/>
<circle class="p3" cx="916.7" cy="659.9" r="9.7"/>
<circle class="p3" cx="911.4" cy="651.0" r="9.7"/>
<circle class="p3" cx="922.0" cy="661.7" r="9.7"/>
<circle class="p3" cx="883.0" cy="665.2" r="9.7"/>
<circle class="p3" cx="898.0" cy="664.0" r="9.7"/>
<circle class="p3" cx="908.0" cy="663.0" r="9.7"/>
<circle class="p3" cx="913.0" cy="667.0" r="9.7"/>
<circle class="p3" cx="925.0" cy="667.0" r="9.7"/>
<circle class="p3" cx="901.0" cy="667.0" r="9.7"/>
<circle class="p3" cx="893.0" cy="667.0" r="9.7"/>
<circle class="p3" cx="356.5" cy="604.3" r="9.7"/>
<circle class="p3" cx="359.2" cy="605.9" r="9.7"/>
<circle class="p3" cx="361.9" cy="607.6" r="9.7"/>
<circle class="p3" cx="364.6" cy="609.2" r="9.7"/>
<circle class="p3" cx="367.4" cy="610.9" r="9.7"/>
<circle class="p3" cx="370.1" cy="612.5" r="9.7"/>
<circle class="p3" cx="372.8" cy="614.1" r="9.7"/>
<circle class="p3" cx="375.5" cy="615.8" r="9.7"/>
<circle class="p3" cx="378.2" cy="617.4" r="9.7"/>
<circle class="p3" cx="380.9" cy="619.1" r="9.7"/>
<circle class="p3" cx="383.6" cy="620.7" r="9.7"/>
<circle class="p3" cx="386.3" cy="622.3" r="9.7"/>
<circle class="p3" cx="389.1" cy="624.0" r="9.7"/>
<circle class="p3" cx="391.8" cy="625.6" r="9.7"/>
<circle class="p3" cx="394.5" cy="627.3" r="9.7"/>
<circle class="p3" cx="397.2" cy="628.9" r="9.7"/>
<circle class="p3" cx="1599.5" cy="591.0" r="9.7"/>
<circle class="p3" cx="1604.9" cy="587.5" r="9.7"/>
<circle class="p3" cx="1610.3" cy="583.9" r="9.7"/>
<circle class="p3" cx="1615.8" cy="580.4" r="9.7"/>
<circle class="p3" cx="1621.2" cy="576.8" r="9.7"/>
<circle class="p3" cx="1626.6" cy="573.3" r="9.7"/>
<line class="dash dl" x1="942.0" y1="870.4" x2="942.0" y2="22.5"/>
<line class="dash dr" x1="1000.2" y1="870.4" x2="1000.2" y2="22.5"/>
<line class="dash dh" x1="133.3" y1="671.8" x2="1811.5" y2="671.8"/>
<text class="lab" transform="translate(326.5 233.8) scale(1 1.1)">RASD2</text>
<text class="lab" transform="translate(318.8 390.2) scale(1.02 1.1)">RGL2</text>
<text class="lab" transform="translate(336.2 470.7) scale(0.947 1.1)">FLOT1</text>
<text class="lab" transform="translate(319.9 514.4) scale(1 1.1)">DHX16</text>
<text class="lab" transform="translate(253.1 543.2) scale(0.973 1.1)">PPP1R11</text>
<text class="lab" transform="translate(300.2 577.0) scale(1 1.1)">EEFSEC</text>
<text class="lab" transform="translate(394.4 640.0) scale(1.03 1.1)">DLGAP2</text>
<text class="lab" transform="translate(503.2 682.0) scale(0.962 1.1)">MAML1</text>
<text class="lab" transform="translate(683.1 639.4) scale(1.03 1.1)">HLA-DRB4</text>
<text class="lab" transform="translate(796.6 644.6) scale(0.966 1.1)">OLR1</text>
<text class="lab" transform="translate(889.1 553.2) scale(0.981 1.1)">LILRA4</text>
<text class="lab" transform="translate(908.7 626.0) scale(0.926 1.1)">PER1</text>
<text class="lab" transform="translate(845.5 680.7) scale(0.98 1.1)">GPRC5A</text>
<text class="lab" transform="translate(1041.5 415.8) scale(0.976 1.1)">MLH3</text>
<text class="lab" transform="translate(1022.9 478.1) scale(0.956 1.1)">TSC22D1</text>
<text class="lab" transform="translate(1020.0 535.3) scale(0.968 1.1)">ABCC3</text>
<text class="lab" transform="translate(1028.6 578.4) scale(1 1.1)">HGD</text>
<text class="lab" transform="translate(1019.4 630.7) scale(0.985 1.1)">TFPI</text>
<text class="lab" transform="translate(1022.1 666.1) scale(1 1.1)">PRKAR2B</text>
<text class="lab" transform="translate(1597.6 314.4) scale(1 1.1)">GPSM3</text>
<text class="lab" transform="translate(1647.2 366.8) scale(1 1.1)">RNF5</text>
<text class="lab" transform="translate(1683.9 543.3) scale(1.03 1.1)">HSPA1A</text>
<text class="lab" transform="translate(1615.4 595.7) scale(0.986 1.1)">C6orf47</text>
<text class="lab" transform="translate(1579.1 618.1) scale(0.976 1.1)">TRIM26</text>
<text class="lab" transform="translate(1470.8 670.1) scale(1 1.1)">AK6</text>
<path class="axis" d="M133.3 22.5V870.0H1811.5"/>
<line class="tick" x1="123.8" y1="831.7" x2="133.3" y2="831.7"/>
<text class="ytl" transform="translate(114.6 843.3) scale(1 1.1)">0</text>
<line class="tick" x1="123.8" y1="671.8" x2="133.3" y2="671.8"/>
<text class="ytl" transform="translate(114.6 683.4) scale(1 1.1)">5</text>
<line class="tick" x1="123.8" y1="511.9" x2="133.3" y2="511.9"/>
<text class="ytl" transform="translate(114.6 523.5) scale(1 1.1)">10</text>
<line class="tick" x1="123.8" y1="352.0" x2="133.3" y2="352.0"/>
<text class="ytl" transform="translate(114.6 363.6) scale(1 1.1)">15</text>
<line class="tick" x1="123.8" y1="192.1" x2="133.3" y2="192.1"/>
<text class="ytl" transform="translate(114.6 203.7) scale(1 1.1)">20</text>
<line class="tick" x1="123.8" y1="32.2" x2="133.3" y2="32.2"/>
<text class="ytl" transform="translate(114.6 43.8) scale(1 1.1)">25</text>
<line class="tick" x1="388.5" y1="870.0" x2="388.5" y2="880.0"/>
<text class="xtl" transform="translate(388.5 911.6) scale(1 1.1)">-20</text>
<line class="tick" x1="679.8" y1="870.0" x2="679.8" y2="880.0"/>
<text class="xtl" transform="translate(681.3 911.6) scale(1 1.1)">-10</text>
<line class="tick" x1="971.1" y1="870.0" x2="971.1" y2="880.0"/>
<text class="xtl" transform="translate(971.1 911.6) scale(1 1.1)">0</text>
<line class="tick" x1="1262.4" y1="870.0" x2="1262.4" y2="880.0"/>
<text class="xtl" transform="translate(1263.9 911.6) scale(1 1.1)">10</text>
<line class="tick" x1="1553.7" y1="870.0" x2="1553.7" y2="880.0"/>
<text class="xtl" transform="translate(1553.7 911.6) scale(1 1.1)">20</text>
<text class="ttl" x="978.4" y="955.6" text-anchor="middle">Log<tspan class="sub" dy="7">2</tspan><tspan dy="-7"> fold change</tspan></text>
<text class="ttl" transform="translate(50.2 523.5) rotate(-90)"><tspan class="mn" dy="2.5">−</tspan><tspan dx="-4.5" dy="-2.5"> Log</tspan><tspan class="sub" dx="1" dy="8">10</tspan><tspan dy="-8" dx="6.8" font-style="italic"> P</tspan></text>
<text class="ttl" x="457.5" y="1075.4">Sig</text>
<circle class="g0 lg" cx="560.5" cy="1062.4" r="19.8"/>
<circle class="g1 lg" cx="700.5" cy="1062.4" r="19.8"/>
<circle class="g2 lg" cx="916.6" cy="1062.4" r="19.8"/>
<circle class="g3 lg" cx="1122" cy="1062.4" r="19.8"/>
<text class="leg" x="609.5" y="1073.4">NS</text>
<text class="leg" x="751.0" y="1071.4">Log<tspan class="subl" dx="1.5" dy="6">2</tspan><tspan dy="-6" dx="4"> FC</tspan></text>
<text class="leg" x="966.0" y="1073.4"><tspan class="lc">p-value</tspan></text>
<text class="leg" x="1169.0" y="1071.4"><tspan class="lc">p – value and log</tspan><tspan class="subl" dx="1.4" dy="6">2</tspan><tspan dy="-6" dx="2.1"> FC</tspan></text>
</g>
<rect class="border" x="1.6" y="1.6" width="1829.4" height="1129.1"/>
<g class="chart">
<circle class="p1" cx="953.1" cy="1927.0" r="9.7"/>
<circle class="p1" cx="1015.8" cy="1926.9" r="9.7"/>
<circle class="p1" cx="1016.0" cy="1935.1" r="9.7"/>
<circle class="p1" cx="952.5" cy="1938.5" r="9.7"/>
<circle class="p1" cx="1016.7" cy="1937.0" r="9.7"/>
<circle class="p1" cx="952.7" cy="1941.2" r="9.7"/>
<circle class="p1" cx="954.8" cy="1946.0" r="9.7"/>
<circle class="p1" cx="1016.2" cy="1948.5" r="9.7"/>
<circle class="p1" cx="953.5" cy="1952.2" r="9.7"/>
<circle class="p1" cx="1017.2" cy="1951.4" r="9.7"/>
<circle class="p1" cx="1018.1" cy="1953.5" r="9.7"/>
<circle class="p1" cx="953.9" cy="1955.1" r="9.7"/>
<circle class="p1" cx="1017.1" cy="1957.2" r="9.7"/>
<circle class="p1" cx="1016.2" cy="1964.1" r="9.7"/>
<circle class="p0" cx="958.8" cy="1927.0" r="9.7"/>
<circle class="p0" cx="962.4" cy="1928.4" r="9.7"/>
<circle class="p0" cx="967.8" cy="1929.7" r="9.7"/>
<circle class="p0" cx="970.6" cy="1929.4" r="9.7"/>
<circle class="p0" cx="977.1" cy="1928.7" r="9.7"/>
<circle class="p0" cx="979.4" cy="1930.5" r="9.7"/>
<circle class="p0" cx="985.9" cy="1927.0" r="9.7"/>
<circle class="p0" cx="989.0" cy="1930.8" r="9.7"/>
<circle class="p0" cx="993.6" cy="1928.4" r="9.7"/>
<circle class="p0" cx="1000.5" cy="1930.1" r="9.7"/>
<circle class="p0" cx="1004.5" cy="1929.8" r="9.7"/>
<circle class="p0" cx="1006.6" cy="1927.1" r="9.7"/>
<circle class="p0" cx="1015.1" cy="1930.1" r="9.7"/>
<circle class="p0" cx="955.3" cy="1931.8" r="9.7"/>
<circle class="p0" cx="962.2" cy="1933.6" r="9.7"/>
<circle class="p0" cx="964.2" cy="1931.7" r="9.7"/>
<circle class="p0" cx="970.4" cy="1934.8" r="9.7"/>
<circle class="p0" cx="975.4" cy="1931.7" r="9.7"/>
<circle class="p0" cx="978.1" cy="1932.6" r="9.7"/>
<circle class="p0" cx="984.3" cy="1931.9" r="9.7"/>
<circle class="p0" cx="988.2" cy="1935.4" r="9.7"/>
<circle class="p0" cx="993.5" cy="1931.4" r="9.7"/>
<circle class="p0" cx="995.2" cy="1931.8" r="9.7"/>
<circle class="p0" cx="1002.4" cy="1933.8" r="9.7"/>
<circle class="p0" cx="1006.3" cy="1933.2" r="9.7"/>
<circle class="p0" cx="1010.4" cy="1933.9" r="9.7"/>
<circle class="p0" cx="957.3" cy="1938.2" r="9.7"/>
<circle class="p0" cx="964.4" cy="1936.6" r="9.7"/>
<circle class="p0" cx="967.2" cy="1938.6" r="9.7"/>
<circle class="p0" cx="971.9" cy="1939.8" r="9.7"/>
<circle class="p0" cx="975.9" cy="1939.7" r="9.7"/>
<circle class="p0" cx="981.7" cy="1939.9" r="9.7"/>
<circle class="p0" cx="983.8" cy="1936.8" r="9.7"/>
<circle class="p0" cx="989.2" cy="1939.7" r="9.7"/>
<circle class="p0" cx="992.7" cy="1937.0" r="9.7"/>
<circle class="p0" cx="1000.2" cy="1940.0" r="9.7"/>
<circle class="p0" cx="1002.6" cy="1937.7" r="9.7"/>
<circle class="p0" cx="1009.3" cy="1938.8" r="9.7"/>
<circle class="p0" cx="1014.1" cy="1939.0" r="9.7"/>
<circle class="p0" cx="956.3" cy="1943.0" r="9.7"/>
<circle class="p0" cx="960.9" cy="1941.3" r="9.7"/>
<circle class="p0" cx="963.3" cy="1940.9" r="9.7"/>
<circle class="p0" cx="971.4" cy="1942.1" r="9.7"/>
<circle class="p0" cx="974.6" cy="1942.9" r="9.7"/>
<circle class="p0" cx="977.5" cy="1940.8" r="9.7"/>
<circle class="p0" cx="981.2" cy="1944.1" r="9.7"/>
<circle class="p0" cx="986.3" cy="1944.5" r="9.7"/>
<circle class="p0" cx="991.8" cy="1943.5" r="9.7"/>
<circle class="p0" cx="995.5" cy="1943.8" r="9.7"/>
<circle class="p0" cx="1000.6" cy="1942.0" r="9.7"/>
<circle class="p0" cx="1006.3" cy="1941.0" r="9.7"/>
<circle class="p0" cx="1009.8" cy="1943.8" r="9.7"/>
<circle class="p0" cx="1014.5" cy="1942.1" r="9.7"/>
<circle class="p0" cx="956.2" cy="1946.2" r="9.7"/>
<circle class="p0" cx="964.3" cy="1947.0" r="9.7"/>
<circle class="p0" cx="968.1" cy="1945.4" r="9.7"/>
<circle class="p0" cx="971.5" cy="1946.4" r="9.7"/>
<circle class="p0" cx="975.1" cy="1947.9" r="9.7"/>
<circle class="p0" cx="980.3" cy="1945.6" r="9.7"/>
<circle class="p0" cx="987.5" cy="1947.1" r="9.7"/>
<circle class="p0" cx="988.8" cy="1945.2" r="9.7"/>
<circle class="p0" cx="995.3" cy="1947.3" r="9.7"/>
<circle class="p0" cx="997.3" cy="1947.1" r="9.7"/>
<circle class="p0" cx="1004.9" cy="1947.4" r="9.7"/>
<circle class="p0" cx="1007.4" cy="1947.2" r="9.7"/>
<circle class="p0" cx="1013.5" cy="1947.8" r="9.7"/>
<circle class="p0" cx="959.2" cy="1951.6" r="9.7"/>
<circle class="p0" cx="965.1" cy="1952.7" r="9.7"/>
<circle class="p0" cx="967.9" cy="1950.7" r="9.7"/>
<circle class="p0" cx="972.4" cy="1953.7" r="9.7"/>
<circle class="p0" cx="977.1" cy="1950.3" r="9.7"/>
<circle class="p0" cx="983.3" cy="1952.1" r="9.7"/>
<circle class="p0" cx="989.4" cy="1950.0" r="9.7"/>
<circle class="p0" cx="991.3" cy="1950.4" r="9.7"/>
<circle class="p0" cx="997.4" cy="1951.6" r="9.7"/>
<circle class="p0" cx="1001.2" cy="1953.4" r="9.7"/>
<circle class="p0" cx="1006.9" cy="1953.3" r="9.7"/>
<circle class="p0" cx="1012.7" cy="1950.8" r="9.7"/>
<circle class="p0" cx="959.8" cy="1957.6" r="9.7"/>
<circle class="p0" cx="961.4" cy="1956.1" r="9.7"/>
<circle class="p0" cx="969.0" cy="1955.2" r="9.7"/>
<circle class="p0" cx="971.3" cy="1958.3" r="9.7"/>
<circle class="p0" cx="978.0" cy="1955.3" r="9.7"/>
<circle class="p0" cx="981.9" cy="1955.8" r="9.7"/>
<circle class="p0" cx="986.2" cy="1957.5" r="9.7"/>
<circle class="p0" cx="988.6" cy="1955.3" r="9.7"/>
<circle class="p0" cx="993.5" cy="1955.4" r="9.7"/>
<circle class="p0" cx="997.4" cy="1954.9" r="9.7"/>
<circle class="p0" cx="1003.5" cy="1956.1" r="9.7"/>
<circle class="p0" cx="1006.8" cy="1956.7" r="9.7"/>
<circle class="p0" cx="1014.9" cy="1956.7" r="9.7"/>
<circle class="p0" cx="954.9" cy="1960.7" r="9.7"/>
<circle class="p0" cx="960.1" cy="1960.0" r="9.7"/>
<circle class="p0" cx="963.0" cy="1959.3" r="9.7"/>
<circle class="p0" cx="968.0" cy="1959.3" r="9.7"/>
<circle class="p0" cx="974.5" cy="1961.8" r="9.7"/>
<circle class="p0" cx="977.6" cy="1962.2" r="9.7"/>
<circle class="p0" cx="984.1" cy="1960.3" r="9.7"/>
<circle class="p0" cx="987.8" cy="1959.7" r="9.7"/>
<circle class="p0" cx="994.2" cy="1961.2" r="9.7"/>
<circle class="p0" cx="995.1" cy="1959.6" r="9.7"/>
<circle class="p0" cx="1002.4" cy="1960.5" r="9.7"/>
<circle class="p0" cx="1007.1" cy="1959.9" r="9.7"/>
<circle class="p0" cx="1012.0" cy="1962.3" r="9.7"/>
<circle class="p0" cx="1013.7" cy="1961.4" r="9.7"/>
<circle class="p0" cx="958.0" cy="1964.2" r="9.7"/>
<circle class="p0" cx="964.3" cy="1967.2" r="9.7"/>
<circle class="p0" cx="966.9" cy="1964.3" r="9.7"/>
<circle class="p0" cx="970.1" cy="1965.6" r="9.7"/>
<circle class="p0" cx="976.4" cy="1965.0" r="9.7"/>
<circle class="p0" cx="981.8" cy="1965.7" r="9.7"/>
<circle class="p0" cx="986.6" cy="1964.0" r="9.7"/>
<circle class="p0" cx="988.3" cy="1965.1" r="9.7"/>
<circle class="p0" cx="994.6" cy="1964.6" r="9.7"/>
<circle class="p0" cx="1000.0" cy="1964.4" r="9.7"/>
<circle class="p0" cx="1003.1" cy="1965.5" r="9.7"/>
<circle class="p0" cx="1009.4" cy="1966.7" r="9.7"/>
<circle class="p0" cx="1012.6" cy="1965.4" r="9.7"/>
<circle class="p0" cx="960.1" cy="1971.1" r="9.7"/>
<circle class="p0" cx="965.8" cy="1968.7" r="9.7"/>
<circle class="p0" cx="968.1" cy="1972.1" r="9.7"/>
<circle class="p0" cx="972.4" cy="1971.5" r="9.7"/>
<circle class="p0" cx="977.9" cy="1969.2" r="9.7"/>
<circle class="p0" cx="982.2" cy="1970.1" r="9.7"/>
<circle class="p0" cx="989.8" cy="1968.7" r="9.7"/>
<circle class="p0" cx="993.9" cy="1969.5" r="9.7"/>
<circle class="p0" cx="995.6" cy="1971.2" r="9.7"/>
<circle class="p0" cx="1000.9" cy="1968.9" r="9.7"/>
<circle class="p0" cx="1005.9" cy="1971.5" r="9.7"/>
<circle class="p0" cx="1012.3" cy="1970.5" r="9.7"/>
<circle class="p0" cx="1013.4" cy="1971.3" r="9.7"/>
<circle class="p0" cx="961.8" cy="1976.0" r="9.7"/>
<circle class="p0" cx="968.3" cy="1976.3" r="9.7"/>
<circle class="p0" cx="970.5" cy="1974.1" r="9.7"/>
<circle class="p0" cx="975.3" cy="1973.1" r="9.7"/>
<circle class="p0" cx="980.2" cy="1972.8" r="9.7"/>
<circle class="p0" cx="986.7" cy="1973.7" r="9.7"/>
<circle class="p0" cx="988.3" cy="1973.0" r="9.7"/>
<circle class="p0" cx="995.7" cy="1973.6" r="9.7"/>
<circle class="p0" cx="999.1" cy="1974.4" r="9.7"/>
<circle class="p0" cx="1005.2" cy="1976.7" r="9.7"/>
<circle class="p0" cx="1007.7" cy="1975.3" r="9.7"/>
<circle class="p0" cx="966.9" cy="1979.7" r="9.7"/>
<circle class="p0" cx="970.6" cy="1978.1" r="9.7"/>
<circle class="p0" cx="975.7" cy="1979.6" r="9.7"/>
<circle class="p0" cx="979.7" cy="1980.9" r="9.7"/>
<circle class="p0" cx="982.6" cy="1981.2" r="9.7"/>
<circle class="p0" cx="986.6" cy="1977.4" r="9.7"/>
<circle class="p0" cx="992.4" cy="1981.1" r="9.7"/>
<circle class="p0" cx="998.7" cy="1981.3" r="9.7"/>
<circle class="p0" cx="1001.6" cy="1981.2" r="9.7"/>
<circle class="p0" cx="1006.4" cy="1977.9" r="9.7"/>
<circle class="p0" cx="966.3" cy="1984.0" r="9.7"/>
<circle class="p0" cx="970.4" cy="1983.9" r="9.7"/>
<circle class="p0" cx="976.1" cy="1986.0" r="9.7"/>
<circle class="p0" cx="980.8" cy="1985.8" r="9.7"/>
<circle class="p0" cx="985.4" cy="1982.7" r="9.7"/>
<circle class="p0" cx="990.5" cy="1982.5" r="9.7"/>
<circle class="p0" cx="993.3" cy="1982.2" r="9.7"/>
<circle class="p0" cx="1000.1" cy="1985.9" r="9.7"/>
<circle class="p0" cx="1003.5" cy="1983.4" r="9.7"/>
<circle class="p0" cx="1008.2" cy="1983.4" r="9.7"/>
<circle class="p0" cx="965.0" cy="1987.7" r="9.7"/>
<circle class="p0" cx="968.7" cy="1989.9" r="9.7"/>
<circle class="p0" cx="972.6" cy="1989.4" r="9.7"/>
<circle class="p0" cx="976.6" cy="1987.3" r="9.7"/>
<circle class="p0" cx="981.4" cy="1989.9" r="9.7"/>
<circle class="p0" cx="986.3" cy="1987.5" r="9.7"/>
<circle class="p0" cx="990.6" cy="1987.6" r="9.7"/>
<circle class="p0" cx="998.0" cy="1989.5" r="9.7"/>
<circle class="p0" cx="1003.3" cy="1990.5" r="9.7"/>
<circle class="p0" cx="1006.4" cy="1990.3" r="9.7"/>
<circle class="p0" cx="968.8" cy="1993.5" r="9.7"/>
<circle class="p0" cx="970.2" cy="1991.9" r="9.7"/>
<circle class="p0" cx="975.8" cy="1994.0" r="9.7"/>
<circle class="p0" cx="978.8" cy="1994.5" r="9.7"/>
<circle class="p0" cx="986.7" cy="1993.3" r="9.7"/>
<circle class="p0" cx="988.1" cy="1994.4" r="9.7"/>
<circle class="p0" cx="994.3" cy="1993.9" r="9.7"/>
<circle class="p0" cx="999.6" cy="1994.1" r="9.7"/>
<circle class="p0" cx="1003.5" cy="1995.1" r="9.7"/>
<circle class="p0" cx="969.2" cy="1999.3" r="9.7"/>
<circle class="p0" cx="973.6" cy="1999.7" r="9.7"/>
<circle class="p0" cx="978.5" cy="1996.2" r="9.7"/>
<circle class="p0" cx="984.2" cy="1996.3" r="9.7"/>
<circle class="p0" cx="988.5" cy="1996.0" r="9.7"/>
<circle class="p0" cx="994.4" cy="1998.0" r="9.7"/>
<circle class="p0" cx="998.0" cy="1996.3" r="9.7"/>
<circle class="p0" cx="1002.2" cy="1997.3" r="9.7"/>
<circle class="p0" cx="971.9" cy="2003.5" r="9.7"/>
<circle class="p0" cx="976.7" cy="2001.0" r="9.7"/>
<circle class="p0" cx="982.5" cy="2001.9" r="9.7"/>
<circle class="p0" cx="987.4" cy="2004.4" r="9.7"/>
<circle class="p0" cx="988.6" cy="2002.7" r="9.7"/>
<circle class="p0" cx="996.6" cy="2001.9" r="9.7"/>
<circle class="p0" cx="999.5" cy="2001.6" r="9.7"/>
<circle class="p0" cx="1001.9" cy="2001.2" r="9.7"/>
<circle class="p0" cx="970.8" cy="2009.0" r="9.7"/>
<circle class="p0" cx="972.4" cy="2008.0" r="9.7"/>
<circle class="p0" cx="977.6" cy="2005.5" r="9.7"/>
<circle class="p0" cx="982.6" cy="2007.7" r="9.7"/>
<circle class="p0" cx="989.7" cy="2009.0" r="9.7"/>
<circle class="p0" cx="994.4" cy="2007.5" r="9.7"/>
<circle class="p0" cx="997.6" cy="2005.6" r="9.7"/>
<circle class="p0" cx="974.5" cy="2011.6" r="9.7"/>
<circle class="p0" cx="980.2" cy="2010.0" r="9.7"/>
<circle class="p0" cx="986.5" cy="2012.5" r="9.7"/>
<circle class="p0" cx="990.1" cy="2010.2" r="9.7"/>
<circle class="p0" cx="995.4" cy="2011.3" r="9.7"/>
<circle class="p0" cx="1000.0" cy="2009.9" r="9.7"/>
<circle class="p0" cx="974.9" cy="2014.6" r="9.7"/>
<circle class="p0" cx="978.1" cy="2016.9" r="9.7"/>
<circle class="p0" cx="981.1" cy="2014.3" r="9.7"/>
<circle class="p0" cx="987.2" cy="2017.8" r="9.7"/>
<circle class="p0" cx="994.5" cy="2015.4" r="9.7"/>
<circle class="p0" cx="975.6" cy="2019.2" r="9.7"/>
<circle class="p0" cx="982.1" cy="2021.8" r="9.7"/>
<circle class="p0" cx="985.4" cy="2020.3" r="9.7"/>
<circle class="p0" cx="989.1" cy="2020.7" r="9.7"/>
<circle class="p0" cx="995.6" cy="2022.4" r="9.7"/>
<circle class="p0" cx="979.8" cy="2026.7" r="9.7"/>
<circle class="p0" cx="982.2" cy="2026.5" r="9.7"/>
<circle class="p0" cx="987.7" cy="2027.4" r="9.7"/>
<circle class="p0" cx="990.6" cy="2024.9" r="9.7"/>
<circle class="p0" cx="982.8" cy="2030.8" r="9.7"/>
<circle class="p0" cx="986.2" cy="2030.0" r="9.7"/>
<circle class="p0" cx="990.0" cy="2028.7" r="9.7"/>
<circle class="p0" cx="993.3" cy="2030.6" r="9.7"/>
<circle class="p0" cx="979.8" cy="2033.7" r="9.7"/>
<circle class="p0" cx="985.0" cy="2035.9" r="9.7"/>
<circle class="p0" cx="988.8" cy="2033.5" r="9.7"/>
<circle class="p0" cx="990.7" cy="2036.4" r="9.7"/>
<circle class="p0" cx="980.6" cy="2039.9" r="9.7"/>
<circle class="p0" cx="987.4" cy="2037.9" r="9.7"/>
<circle class="p0" cx="988.4" cy="2038.8" r="9.7"/>
<circle class="p0" cx="983.3" cy="2043.6" r="9.7"/>
<circle class="p0" cx="987.5" cy="2044.9" r="9.7"/>
<circle class="p0" cx="980.0" cy="2046.8" r="9.7"/>
<circle class="p0" cx="983.6" cy="2048.2" r="9.7"/>
<circle class="p0" cx="982.7" cy="2052.6" r="9.7"/>
<circle class="p0" cx="989.4" cy="2052.1" r="9.7"/>
<circle class="p0" cx="984.4" cy="2059.0" r="9.7"/>
<circle class="p0" cx="989.4" cy="2059.0" r="9.7"/>
<circle class="p0" cx="983.2" cy="2061.5" r="9.7"/>
<circle class="p0" cx="985.5" cy="2064.4" r="9.7"/>
<circle class="p0" cx="981.3" cy="2062.6" r="9.7"/>
<circle class="p0" cx="980.4" cy="2057.5" r="9.7"/>
<circle class="p0" cx="980.4" cy="2053.1" r="9.7"/>
<circle class="p0" cx="978.8" cy="2047.5" r="9.7"/>
<circle class="p0" cx="978.4" cy="2043.3" r="9.7"/>
<circle class="p0" cx="976.9" cy="2038.3" r="9.7"/>
<circle class="p0" cx="976.2" cy="2033.0" r="9.7"/>
<circle class="p0" cx="975.8" cy="2027.4" r="9.7"/>
<circle class="p0" cx="974.1" cy="2022.6" r="9.7"/>
<circle class="p0" cx="972.9" cy="2017.8" r="9.7"/>
<circle class="p0" cx="972.0" cy="2013.6" r="9.7"/>
<circle class="p0" cx="969.8" cy="2009.4" r="9.7"/>
<circle class="p0" cx="968.8" cy="2004.1" r="9.7"/>
<circle class="p0" cx="967.6" cy="2000.4" r="9.7"/>
<circle class="p0" cx="965.4" cy="1996.0" r="9.7"/>
<circle class="p0" cx="964.6" cy="1990.6" r="9.7"/>
<circle class="p0" cx="962.1" cy="1986.9" r="9.7"/>
<circle class="p0" cx="961.6" cy="1981.5" r="9.7"/>
<circle class="p0" cx="959.8" cy="1977.9" r="9.7"/>
<circle class="p0" cx="958.0" cy="1973.7" r="9.7"/>
<circle class="p0" cx="956.7" cy="1968.7" r="9.7"/>
<circle class="p0" cx="954.9" cy="1965.1" r="9.7"/>
<circle class="p0" cx="984.6" cy="2064.5" r="9.7"/>
<circle class="p0" cx="988.5" cy="2061.8" r="9.7"/>
<circle class="p0" cx="990.1" cy="2057.2" r="9.7"/>
<circle class="p0" cx="989.9" cy="2052.2" r="9.7"/>
<circle class="p0" cx="991.5" cy="2048.1" r="9.7"/>
<circle class="p0" cx="992.5" cy="2043.0" r="9.7"/>
<circle class="p0" cx="993.6" cy="2037.5" r="9.7"/>
<circle class="p0" cx="993.9" cy="2033.3" r="9.7"/>
<circle class="p0" cx="995.2" cy="2027.9" r="9.7"/>
<circle class="p0" cx="996.6" cy="2022.8" r="9.7"/>
<circle class="p0" cx="997.4" cy="2018.4" r="9.7"/>
<circle class="p0" cx="998.4" cy="2013.9" r="9.7"/>
<circle class="p0" cx="1000.1" cy="2009.2" r="9.7"/>
<circle class="p0" cx="1002.1" cy="2004.4" r="9.7"/>
<circle class="p0" cx="1003.4" cy="1999.7" r="9.7"/>
<circle class="p0" cx="1004.4" cy="1995.1" r="9.7"/>
<circle class="p0" cx="1006.4" cy="1990.7" r="9.7"/>
<circle class="p0" cx="1007.3" cy="1986.6" r="9.7"/>
<circle class="p0" cx="1009.3" cy="1981.8" r="9.7"/>
<circle class="p0" cx="1010.4" cy="1978.1" r="9.7"/>
<circle class="p0" cx="1012.6" cy="1973.4" r="9.7"/>
<circle class="p0" cx="1013.8" cy="1968.7" r="9.7"/>
<circle class="p1" cx="924.5" cy="1927.7" r="9.7"/>
<circle class="p1" cx="932.0" cy="1928.3" r="9.7"/>
<circle class="p1" cx="933.3" cy="1929.2" r="9.7"/>
<circle class="p1" cx="938.0" cy="1927.6" r="9.7"/>
<circle class="p1" cx="943.9" cy="1929.2" r="9.7"/>
<circle class="p1" cx="949.3" cy="1929.7" r="9.7"/>
<circle class="p1" cx="1021.2" cy="1930.6" r="9.7"/>
<circle class="p1" cx="1025.7" cy="1929.5" r="9.7"/>
<circle class="p1" cx="1033.3" cy="1929.4" r="9.7"/>
<circle class="p1" cx="1037.8" cy="1927.8" r="9.7"/>
<circle class="p1" cx="1039.3" cy="1926.8" r="9.7"/>
<circle class="p1" cx="1046.4" cy="1927.2" r="9.7"/>
<circle class="p1" cx="932.2" cy="1931.4" r="9.7"/>
<circle class="p1" cx="938.2" cy="1931.4" r="9.7"/>
<circle class="p1" cx="943.2" cy="1934.7" r="9.7"/>
<circle class="p1" cx="946.2" cy="1931.8" r="9.7"/>
<circle class="p1" cx="951.6" cy="1932.2" r="9.7"/>
<circle class="p1" cx="1021.0" cy="1934.6" r="9.7"/>
<circle class="p1" cx="1026.3" cy="1934.8" r="9.7"/>
<circle class="p1" cx="1030.1" cy="1931.5" r="9.7"/>
<circle class="p1" cx="1034.5" cy="1934.8" r="9.7"/>
<circle class="p1" cx="1038.1" cy="1935.0" r="9.7"/>
<circle class="p1" cx="934.2" cy="1939.1" r="9.7"/>
<circle class="p1" cx="940.6" cy="1939.6" r="9.7"/>
<circle class="p1" cx="945.3" cy="1938.1" r="9.7"/>
<circle class="p1" cx="947.1" cy="1939.3" r="9.7"/>
<circle class="p1" cx="1020.3" cy="1938.8" r="9.7"/>
<circle class="p1" cx="1025.7" cy="1937.0" r="9.7"/>
<circle class="p1" cx="1033.4" cy="1938.6" r="9.7"/>
<circle class="p1" cx="1036.5" cy="1938.6" r="9.7"/>
<circle class="p1" cx="938.7" cy="1943.9" r="9.7"/>
<circle class="p1" cx="942.5" cy="1941.7" r="9.7"/>
<circle class="p1" cx="944.4" cy="1941.3" r="9.7"/>
<circle class="p1" cx="1021.1" cy="1941.5" r="9.7"/>
<circle class="p1" cx="1023.3" cy="1941.4" r="9.7"/>
<circle class="p1" cx="1028.7" cy="1942.0" r="9.7"/>
<circle class="p1" cx="941.0" cy="1945.6" r="9.7"/>
<circle class="p1" cx="945.9" cy="1947.3" r="9.7"/>
<circle class="p1" cx="947.6" cy="1945.8" r="9.7"/>
<circle class="p1" cx="1024.1" cy="1948.2" r="9.7"/>
<circle class="p1" cx="1028.4" cy="1946.7" r="9.7"/>
<circle class="p1" cx="944.4" cy="1951.3" r="9.7"/>
<circle class="p1" cx="949.6" cy="1953.2" r="9.7"/>
<circle class="p1" cx="1023.0" cy="1949.8" r="9.7"/>
<circle class="p1" cx="949.4" cy="1957.3" r="9.7"/>
<circle class="p1" cx="1022.0" cy="1955.1" r="9.7"/>
<circle class="p1" cx="951.4" cy="1961.3" r="9.7"/>
<circle class="p1" cx="948.9" cy="1957.9" r="9.7"/>
<circle class="p1" cx="945.8" cy="1953.6" r="9.7"/>
<circle class="p1" cx="942.5" cy="1950.4" r="9.7"/>
<circle class="p1" cx="939.5" cy="1947.2" r="9.7"/>
<circle class="p1" cx="937.4" cy="1942.7" r="9.7"/>
<circle class="p1" cx="934.1" cy="1939.4" r="9.7"/>
<circle class="p1" cx="930.4" cy="1935.8" r="9.7"/>
<circle class="p1" cx="928.1" cy="1931.5" r="9.7"/>
<circle class="p1" cx="924.3" cy="1927.7" r="9.7"/>
<circle class="p1" cx="1018.8" cy="1961.4" r="9.7"/>
<circle class="p1" cx="1022.1" cy="1957.4" r="9.7"/>
<circle class="p1" cx="1024.1" cy="1953.9" r="9.7"/>
<circle class="p1" cx="1027.7" cy="1950.7" r="9.7"/>
<circle class="p1" cx="1030.0" cy="1946.6" r="9.7"/>
<circle class="p1" cx="1034.0" cy="1943.1" r="9.7"/>
<circle class="p1" cx="1036.2" cy="1939.7" r="9.7"/>
<circle class="p1" cx="1039.4" cy="1935.2" r="9.7"/>
<circle class="p1" cx="1042.6" cy="1931.5" r="9.7"/>
<circle class="p1" cx="1045.7" cy="1927.9" r="9.7"/>
<circle class="p1" cx="901.0" cy="1918.4" r="9.7"/>
<circle class="p1" cx="1054.3" cy="1930.5" r="9.7"/>
<circle class="p1" cx="912.0" cy="1925.0" r="9.7"/>
<circle class="p3" cx="1044.4" cy="1772.0" r="9.7"/>
<circle class="p3" cx="1026.4" cy="1785.3" r="9.7"/>
<circle class="p3" cx="1022.2" cy="1796.7" r="9.7"/>
<circle class="p3" cx="1039.8" cy="1790.2" r="9.7"/>
<circle class="p3" cx="1055.9" cy="1794.0" r="9.7"/>
<circle class="p3" cx="1029.0" cy="1799.9" r="9.7"/>
<circle class="p3" cx="1047.6" cy="1802.1" r="9.7"/>
<circle class="p3" cx="1024.9" cy="1814.5" r="9.7"/>
<circle class="p3" cx="1031.3" cy="1809.8" r="9.7"/>
<circle class="p3" cx="1054.6" cy="1809.7" r="9.7"/>
<circle class="p3" cx="1023.4" cy="1825.4" r="9.7"/>
<circle class="p3" cx="1029.2" cy="1819.6" r="9.7"/>
<circle class="p3" cx="1043.1" cy="1823.9" r="9.7"/>
<circle class="p3" cx="1052.2" cy="1819.9" r="9.7"/>
<circle class="p3" cx="1066.5" cy="1823.2" r="9.7"/>
<circle class="p3" cx="1022.5" cy="1846.9" r="9.7"/>
<circle class="p3" cx="1026.7" cy="1853.6" r="9.7"/>
<circle class="p3" cx="1033.1" cy="1856.7" r="9.7"/>
<circle class="p3" cx="1045.4" cy="1854.4" r="9.7"/>
<circle class="p3" cx="1057.4" cy="1849.8" r="9.7"/>
<circle class="p3" cx="1026.5" cy="1860.7" r="9.7"/>
<circle class="p3" cx="1023.7" cy="1873.2" r="9.7"/>
<circle class="p3" cx="1062.7" cy="1870.4" r="9.7"/>
<circle class="p3" cx="1026.2" cy="1886.2" r="9.7"/>
<circle class="p3" cx="1057.5" cy="1884.1" r="9.7"/>
<circle class="p3" cx="1022.2" cy="1897.3" r="9.7"/>
<circle class="p3" cx="1041.5" cy="1893.8" r="9.7"/>
<circle class="p3" cx="1035.1" cy="1901.3" r="9.7"/>
<circle class="p3" cx="1021.1" cy="1912.3" r="9.7"/>
<circle class="p3" cx="1065.3" cy="1910.3" r="9.7"/>
<circle class="p3" cx="927.6" cy="1860.3" r="9.7"/>
<circle class="p3" cx="939.7" cy="1855.5" r="9.7"/>
<circle class="p3" cx="944.0" cy="1871.5" r="9.7"/>
<circle class="p3" cx="932.9" cy="1888.8" r="9.7"/>
<circle class="p3" cx="921.5" cy="1902.9" r="9.7"/>
<circle class="p3" cx="922.6" cy="1910.2" r="9.7"/>
<circle class="p3" cx="933.7" cy="1912.5" r="9.7"/>
<circle class="p3" cx="1020.4" cy="1793.7" r="9.7"/>
<circle class="p3" cx="1028.7" cy="1789.3" r="9.7"/>
<circle class="p3" cx="1031.0" cy="1792.3" r="9.7"/>
<circle class="p3" cx="1020.0" cy="1797.8" r="9.7"/>
<circle class="p3" cx="1022.4" cy="1799.1" r="9.7"/>
<circle class="p3" cx="1031.6" cy="1797.3" r="9.7"/>
<circle class="p3" cx="1021.9" cy="1804.7" r="9.7"/>
<circle class="p3" cx="1028.5" cy="1801.3" r="9.7"/>
<circle class="p3" cx="1033.0" cy="1803.2" r="9.7"/>
<circle class="p3" cx="1039.0" cy="1802.6" r="9.7"/>
<circle class="p3" cx="1023.7" cy="1807.7" r="9.7"/>
<circle class="p3" cx="1030.2" cy="1807.4" r="9.7"/>
<circle class="p3" cx="1038.3" cy="1809.6" r="9.7"/>
<circle class="p3" cx="1040.8" cy="1809.4" r="9.7"/>
<circle class="p3" cx="1021.2" cy="1815.9" r="9.7"/>
<circle class="p3" cx="1028.9" cy="1813.1" r="9.7"/>
<circle class="p3" cx="1031.2" cy="1815.5" r="9.7"/>
<circle class="p3" cx="1038.2" cy="1813.2" r="9.7"/>
<circle class="p3" cx="1044.0" cy="1815.2" r="9.7"/>
<circle class="p3" cx="1023.1" cy="1818.8" r="9.7"/>
<circle class="p3" cx="1028.6" cy="1819.5" r="9.7"/>
<circle class="p3" cx="1033.9" cy="1820.4" r="9.7"/>
<circle class="p3" cx="1041.0" cy="1818.3" r="9.7"/>
<circle class="p3" cx="1023.1" cy="1827.1" r="9.7"/>
<circle class="p3" cx="1026.4" cy="1824.0" r="9.7"/>
<circle class="p3" cx="1034.0" cy="1823.4" r="9.7"/>
<circle class="p3" cx="1041.0" cy="1826.0" r="9.7"/>
<circle class="p3" cx="1044.4" cy="1822.9" r="9.7"/>
<circle class="p3" cx="1019.5" cy="1828.7" r="9.7"/>
<circle class="p3" cx="1027.0" cy="1832.0" r="9.7"/>
<circle class="p3" cx="1031.8" cy="1832.1" r="9.7"/>
<circle class="p3" cx="1034.2" cy="1829.5" r="9.7"/>
<circle class="p3" cx="1039.1" cy="1831.1" r="9.7"/>
<circle class="p3" cx="1044.9" cy="1829.2" r="9.7"/>
<circle class="p3" cx="1023.3" cy="1835.3" r="9.7"/>
<circle class="p3" cx="1029.8" cy="1834.7" r="9.7"/>
<circle class="p3" cx="1031.2" cy="1835.8" r="9.7"/>
<circle class="p3" cx="1040.1" cy="1834.4" r="9.7"/>
<circle class="p3" cx="1020.1" cy="1842.0" r="9.7"/>
<circle class="p3" cx="1025.9" cy="1840.5" r="9.7"/>
<circle class="p3" cx="1029.1" cy="1840.5" r="9.7"/>
<circle class="p3" cx="1037.6" cy="1843.0" r="9.7"/>
<circle class="p3" cx="1039.7" cy="1843.1" r="9.7"/>
<circle class="p3" cx="1022.9" cy="1848.5" r="9.7"/>
<circle class="p3" cx="1025.9" cy="1845.3" r="9.7"/>
<circle class="p3" cx="1033.7" cy="1848.6" r="9.7"/>
<circle class="p3" cx="1036.1" cy="1849.3" r="9.7"/>
<circle class="p3" cx="1019.1" cy="1854.6" r="9.7"/>
<circle class="p3" cx="1024.5" cy="1850.8" r="9.7"/>
<circle class="p3" cx="1030.4" cy="1852.8" r="9.7"/>
<circle class="p3" cx="1035.0" cy="1852.7" r="9.7"/>
<circle class="p3" cx="1040.0" cy="1852.3" r="9.7"/>
<circle class="p3" cx="1019.9" cy="1858.9" r="9.7"/>
<circle class="p3" cx="1028.6" cy="1860.2" r="9.7"/>
<circle class="p3" cx="1032.4" cy="1857.1" r="9.7"/>
<circle class="p3" cx="1040.9" cy="1859.4" r="9.7"/>
<circle class="p3" cx="1019.8" cy="1865.7" r="9.7"/>
<circle class="p3" cx="1025.0" cy="1865.7" r="9.7"/>
<circle class="p3" cx="1028.4" cy="1866.9" r="9.7"/>
<circle class="p3" cx="1036.2" cy="1864.9" r="9.7"/>
<circle class="p3" cx="1039.8" cy="1862.3" r="9.7"/>
<circle class="p3" cx="1021.7" cy="1871.4" r="9.7"/>
<circle class="p3" cx="1028.1" cy="1872.1" r="9.7"/>
<circle class="p3" cx="1030.9" cy="1871.4" r="9.7"/>
<circle class="p3" cx="1036.1" cy="1870.6" r="9.7"/>
<circle class="p3" cx="1019.0" cy="1877.1" r="9.7"/>
<circle class="p3" cx="1022.7" cy="1877.6" r="9.7"/>
<circle class="p3" cx="1032.4" cy="1874.8" r="9.7"/>
<circle class="p3" cx="1034.3" cy="1873.8" r="9.7"/>
<circle class="p3" cx="1040.0" cy="1875.2" r="9.7"/>
<circle class="p3" cx="1021.4" cy="1882.0" r="9.7"/>
<circle class="p3" cx="1024.9" cy="1880.8" r="9.7"/>
<circle class="p3" cx="1030.6" cy="1879.3" r="9.7"/>
<circle class="p3" cx="1040.2" cy="1879.3" r="9.7"/>
<circle class="p3" cx="1043.2" cy="1881.3" r="9.7"/>
<circle class="p3" cx="1024.5" cy="1886.2" r="9.7"/>
<circle class="p3" cx="1032.7" cy="1884.5" r="9.7"/>
<circle class="p3" cx="1034.2" cy="1884.7" r="9.7"/>
<circle class="p3" cx="1041.7" cy="1889.1" r="9.7"/>
<circle class="p3" cx="1024.2" cy="1893.4" r="9.7"/>
<circle class="p3" cx="1027.9" cy="1891.2" r="9.7"/>
<circle class="p3" cx="1032.7" cy="1892.5" r="9.7"/>
<circle class="p3" cx="1038.0" cy="1892.7" r="9.7"/>
<circle class="p3" cx="1042.1" cy="1892.0" r="9.7"/>
<circle class="p3" cx="1020.6" cy="1899.2" r="9.7"/>
<circle class="p3" cx="1024.0" cy="1899.1" r="9.7"/>
<circle class="p3" cx="1028.7" cy="1898.6" r="9.7"/>
<circle class="p3" cx="1033.4" cy="1896.5" r="9.7"/>
<circle class="p3" cx="1039.8" cy="1897.3" r="9.7"/>
<circle class="p3" cx="1024.1" cy="1905.9" r="9.7"/>
<circle class="p3" cx="1028.0" cy="1905.3" r="9.7"/>
<circle class="p3" cx="1035.2" cy="1903.3" r="9.7"/>
<circle class="p3" cx="1040.4" cy="1901.3" r="9.7"/>
<circle class="p3" cx="1019.5" cy="1910.1" r="9.7"/>
<circle class="p3" cx="1023.0" cy="1909.5" r="9.7"/>
<circle class="p3" cx="1032.6" cy="1908.0" r="9.7"/>
<circle class="p3" cx="1037.4" cy="1911.5" r="9.7"/>
<circle class="p3" cx="1020.7" cy="1913.2" r="9.7"/>
<circle class="p3" cx="949.1" cy="1860.8" r="9.7"/>
<circle class="p3" cx="940.9" cy="1866.6" r="9.7"/>
<circle class="p3" cx="946.4" cy="1866.3" r="9.7"/>
<circle class="p3" cx="950.8" cy="1866.3" r="9.7"/>
<circle class="p3" cx="940.4" cy="1870.0" r="9.7"/>
<circle class="p3" cx="948.7" cy="1871.8" r="9.7"/>
<circle class="p3" cx="934.8" cy="1878.5" r="9.7"/>
<circle class="p3" cx="937.8" cy="1877.6" r="9.7"/>
<circle class="p3" cx="942.8" cy="1874.2" r="9.7"/>
<circle class="p3" cx="950.5" cy="1877.9" r="9.7"/>
<circle class="p3" cx="937.4" cy="1883.7" r="9.7"/>
<circle class="p3" cx="939.8" cy="1884.0" r="9.7"/>
<circle class="p3" cx="946.6" cy="1880.9" r="9.7"/>
<circle class="p3" cx="951.7" cy="1882.1" r="9.7"/>
<circle class="p3" cx="934.5" cy="1888.3" r="9.7"/>
<circle class="p3" cx="938.3" cy="1889.1" r="9.7"/>
<circle class="p3" cx="941.9" cy="1885.6" r="9.7"/>
<circle class="p3" cx="947.3" cy="1887.7" r="9.7"/>
<circle class="p3" cx="930.8" cy="1890.4" r="9.7"/>
<circle class="p3" cx="933.8" cy="1895.0" r="9.7"/>
<circle class="p3" cx="943.4" cy="1890.7" r="9.7"/>
<circle class="p3" cx="947.7" cy="1892.8" r="9.7"/>
<circle class="p3" cx="931.5" cy="1899.8" r="9.7"/>
<circle class="p3" cx="937.9" cy="1900.2" r="9.7"/>
<circle class="p3" cx="945.6" cy="1900.5" r="9.7"/>
<circle class="p3" cx="950.8" cy="1897.7" r="9.7"/>
<circle class="p3" cx="936.4" cy="1904.7" r="9.7"/>
<circle class="p3" cx="940.7" cy="1904.1" r="9.7"/>
<circle class="p3" cx="948.0" cy="1903.0" r="9.7"/>
<circle class="p3" cx="932.3" cy="1908.0" r="9.7"/>
<circle class="p3" cx="938.3" cy="1909.7" r="9.7"/>
<circle class="p3" cx="942.5" cy="1911.3" r="9.7"/>
<circle class="p3" cx="949.6" cy="1910.1" r="9.7"/>
<circle class="p3" cx="944.6" cy="1913.2" r="9.7"/>
<circle class="p3" cx="255.6" cy="1672.0" r="9.7"/>
<circle class="p3" cx="298.1" cy="1712.1" r="9.7"/>
<circle class="p3" cx="340.6" cy="1753.4" r="9.7"/>
<circle class="p3" cx="354.0" cy="1765.2" r="9.7"/>
<circle class="p3" cx="506.7" cy="1876.7" r="9.7"/>
<circle class="p3" cx="529.9" cy="1885.5" r="9.7"/>
<circle class="p3" cx="555.8" cy="1893.3" r="9.7"/>
<circle class="p3" cx="863.0" cy="1648.5" r="9.7"/>
<circle class="p3" cx="1099.8" cy="1620.6" r="9.7"/>
<circle class="p3" cx="1034.8" cy="1652.1" r="9.7"/>
<circle class="p3" cx="1045.4" cy="1657.4" r="9.7"/>
<circle class="p3" cx="940.9" cy="1699.9" r="9.7"/>
<circle class="p3" cx="1106.8" cy="1437.2" r="9.7"/>
<circle class="p3" cx="1116.9" cy="1457.6" r="9.7"/>
<circle class="p3" cx="1027.5" cy="1502.7" r="9.7"/>
<circle class="p3" cx="1052.3" cy="1521.0" r="9.7"/>
<circle class="p3" cx="1035.5" cy="1556.7" r="9.7"/>
<circle class="p3" cx="1031.3" cy="1627.3" r="9.7"/>
<circle class="p3" cx="1095.2" cy="1645.2" r="9.7"/>
<circle class="p3" cx="1117.4" cy="1639.4" r="9.7"/>
<circle class="p3" cx="1029.5" cy="1688.4" r="9.7"/>
<circle class="p3" cx="1114.6" cy="1685.7" r="9.7"/>
<circle class="p3" cx="1162.2" cy="1682.2" r="9.7"/>
<circle class="p3" cx="1025.9" cy="1722.9" r="9.7"/>
<circle class="p3" cx="1052.5" cy="1715.8" r="9.7"/>
<circle class="p3" cx="1084.8" cy="1719.4" r="9.7"/>
<circle class="p3" cx="1072.0" cy="1735.3" r="9.7"/>
<circle class="p3" cx="1092.3" cy="1734.0" r="9.7"/>
<circle class="p3" cx="1044.5" cy="1746.0" r="9.7"/>
<circle class="p3" cx="1077.2" cy="1750.0" r="9.7"/>
<circle class="p3" cx="1091.8" cy="1752.6" r="9.7"/>
<circle class="p3" cx="935.6" cy="1715.8" r="9.7"/>
<circle class="p3" cx="948.0" cy="1719.4" r="9.7"/>
<circle class="p3" cx="956.9" cy="1719.4" r="9.7"/>
<circle class="p3" cx="1132.2" cy="1828.5" r="9.7"/>
<circle class="p3" cx="1104.7" cy="1853.3" r="9.7"/>
<circle class="p3" cx="1096.4" cy="1874.1" r="9.7"/>
<circle class="p3" cx="1072.0" cy="1894.1" r="9.7"/>
<circle class="p3" cx="1082.6" cy="1836.5" r="9.7"/>
<circle class="p3" cx="1070.2" cy="1778.1" r="9.7"/>
<circle class="p3" cx="1080.0" cy="1784.3" r="9.7"/>
<circle class="p3" cx="1057.8" cy="1791.4" r="9.7"/>
<circle class="p3" cx="1063.1" cy="1851.6" r="9.7"/>
<circle class="p3" cx="1282.7" cy="1913.5" r="9.7"/>
<circle class="p3" cx="1291.6" cy="1911.8" r="9.7"/>
<circle class="p3" cx="888.4" cy="1764.7" r="9.7"/>
<circle class="p3" cx="947.5" cy="1746.5" r="9.7"/>
<circle class="p3" cx="948.8" cy="1776.4" r="9.7"/>
<circle class="p3" cx="903.4" cy="1781.6" r="9.7"/>
<circle class="p3" cx="924.2" cy="1779.0" r="9.7"/>
<circle class="p3" cx="944.9" cy="1797.1" r="9.7"/>
<circle class="p3" cx="900.8" cy="1808.8" r="9.7"/>
<circle class="p3" cx="935.8" cy="1807.5" r="9.7"/>
<circle class="p3" cx="935.8" cy="1825.7" r="9.7"/>
<circle class="p3" cx="947.5" cy="1830.9" r="9.7"/>
<circle class="p3" cx="935.8" cy="1847.8" r="9.7"/>
<circle class="p3" cx="911.2" cy="1888.1" r="9.7"/>
<circle class="p3" cx="915.0" cy="1873.8" r="9.7"/>
<circle class="p3" cx="930.6" cy="1905.0" r="9.7"/>
<circle class="p3" cx="923.0" cy="1868.0" r="9.7"/>
<circle class="p3" cx="1656.7" cy="1696.7" r="9.7"/>
<circle class="p3" cx="1690.9" cy="1693.1" r="9.7"/>
<circle class="p3" cx="1637.8" cy="1746.3" r="9.7"/>
<circle class="p3" cx="1551.6" cy="1820.6" r="9.7"/>
<circle class="p2" cx="962.5" cy="1835.6" r="9.7"/>
<circle class="p2" cx="968.3" cy="1833.8" r="9.7"/>
<circle class="p2" cx="963.1" cy="1840.0" r="9.7"/>
<circle class="p2" cx="967.7" cy="1841.2" r="9.7"/>
<circle class="p2" cx="967.5" cy="1846.2" r="9.7"/>
<circle class="p2" cx="965.2" cy="1849.4" r="9.7"/>
<circle class="p2" cx="968.8" cy="1851.1" r="9.7"/>
<circle class="p2" cx="964.8" cy="1856.9" r="9.7"/>
<circle class="p2" cx="970.1" cy="1858.6" r="9.7"/>
<circle class="p2" cx="970.0" cy="1862.3" r="9.7"/>
<circle class="p2" cx="973.7" cy="1861.2" r="9.7"/>
<circle class="p2" cx="970.7" cy="1869.3" r="9.7"/>
<circle class="p2" cx="970.8" cy="1874.5" r="9.7"/>
<circle class="p2" cx="966.0" cy="1877.6" r="9.7"/>
<circle class="p2" cx="969.5" cy="1877.7" r="9.7"/>
<circle class="p2" cx="970.1" cy="1884.2" r="9.7"/>
<circle class="p2" cx="967.7" cy="1890.1" r="9.7"/>
<circle class="p2" cx="970.2" cy="1887.8" r="9.7"/>
<circle class="p2" cx="969.7" cy="1891.4" r="9.7"/>
<circle class="p2" cx="972.5" cy="1892.5" r="9.7"/>
<circle class="p2" cx="967.4" cy="1902.6" r="9.7"/>
<circle class="p2" cx="972.8" cy="1902.9" r="9.7"/>
<circle class="p2" cx="969.1" cy="1909.3" r="9.7"/>
<circle class="p2" cx="968.2" cy="1912.4" r="9.7"/>
<circle class="p2" cx="969.6" cy="1920.8" r="9.7"/>
<circle class="p2" cx="1003.1" cy="1833.9" r="9.7"/>
<circle class="p2" cx="1005.8" cy="1834.0" r="9.7"/>
<circle class="p2" cx="1000.1" cy="1841.7" r="9.7"/>
<circle class="p2" cx="1004.1" cy="1842.3" r="9.7"/>
<circle class="p2" cx="1004.7" cy="1848.4" r="9.7"/>
<circle class="p2" cx="1005.7" cy="1845.8" r="9.7"/>
<circle class="p2" cx="1001.2" cy="1851.4" r="9.7"/>
<circle class="p2" cx="1006.4" cy="1853.8" r="9.7"/>
<circle class="p2" cx="997.7" cy="1856.2" r="9.7"/>
<circle class="p2" cx="1000.1" cy="1856.5" r="9.7"/>
<circle class="p2" cx="1006.4" cy="1857.2" r="9.7"/>
<circle class="p2" cx="999.4" cy="1860.5" r="9.7"/>
<circle class="p2" cx="1004.8" cy="1862.2" r="9.7"/>
<circle class="p2" cx="1001.7" cy="1867.8" r="9.7"/>
<circle class="p2" cx="1007.2" cy="1874.3" r="9.7"/>
<circle class="p2" cx="1000.7" cy="1879.9" r="9.7"/>
<circle class="p2" cx="1007.6" cy="1878.5" r="9.7"/>
<circle class="p2" cx="1001.8" cy="1881.3" r="9.7"/>
<circle class="p2" cx="1003.9" cy="1882.8" r="9.7"/>
<circle class="p2" cx="1001.2" cy="1889.9" r="9.7"/>
<circle class="p2" cx="1007.4" cy="1886.6" r="9.7"/>
<circle class="p2" cx="997.9" cy="1894.6" r="9.7"/>
<circle class="p2" cx="1003.5" cy="1891.5" r="9.7"/>
<circle class="p2" cx="999.5" cy="1899.7" r="9.7"/>
<circle class="p2" cx="1002.6" cy="1899.4" r="9.7"/>
<circle class="p2" cx="999.8" cy="1903.7" r="9.7"/>
<circle class="p2" cx="1004.5" cy="1901.9" r="9.7"/>
<circle class="p2" cx="1001.1" cy="1907.7" r="9.7"/>
<circle class="p2" cx="1005.4" cy="1911.9" r="9.7"/>
<circle class="p2" cx="1000.5" cy="1920.4" r="9.7"/>
<circle class="p2" cx="965.8" cy="1800.0" r="9.7"/>
<circle class="p2" cx="962.2" cy="1807.9" r="9.7"/>
<circle class="p2" cx="967.1" cy="1811.8" r="9.7"/>
<circle class="p2" cx="968.5" cy="1818.3" r="9.7"/>
<circle class="p2" cx="965.7" cy="1836.8" r="9.7"/>
<circle class="p2" cx="1010.2" cy="1803.2" r="9.7"/>
<circle class="p2" cx="1009.9" cy="1816.9" r="9.7"/>
<circle class="p2" cx="1006.7" cy="1820.1" r="9.7"/>
<circle class="p2" cx="1006.9" cy="1831.4" r="9.7"/>
<circle class="p2" cx="1004.5" cy="1838.6" r="9.7"/>
<circle class="p2" cx="1010.0" cy="1668.0" r="9.7"/>
<circle class="p2" cx="971.0" cy="1722.9" r="9.7"/>
<circle class="p2" cx="1006.0" cy="1732.0" r="9.7"/>
<circle class="p2" cx="1010.0" cy="1735.0" r="9.7"/>
<circle class="p2" cx="962.2" cy="1752.1" r="9.7"/>
<circle class="p2" cx="1001.1" cy="1753.0" r="9.7"/>
<circle class="p2" cx="1000.6" cy="1527.5" r="9.7"/>
<circle class="p2" cx="966.0" cy="1765.0" r="9.7"/>
<circle class="p2" cx="1004.0" cy="1770.0" r="9.7"/>
<circle class="p2" cx="962.0" cy="1785.0" r="9.7"/>
<circle class="p2" cx="1008.0" cy="1790.0" r="9.7"/>
<line class="dash dl" x1="954.9" y1="2101.4" x2="954.9" y2="1253.5"/>
<line class="dash dr" x1="1015.5" y1="2101.4" x2="1015.5" y2="1253.5"/>
<line class="dash dh" x1="133.3" y1="1917.8" x2="1811.5" y2="1917.8"/>
<text class="lab" transform="translate(255.1 1683.8) scale(1 1.1)">TIMM22</text>
<text class="lab" transform="translate(298.2 1724.6) scale(1 1.1)">VASN</text>
<text class="lab" transform="translate(341.4 1766.4) scale(1 1.1)">UTP14C</text>
<text class="lab" transform="translate(529.5 1897.3) scale(0.959 1.1)">CCL3L1</text>
<text class="lab" transform="translate(863.5 1658.5) scale(1.06 1.1)">PAX7</text>
<text class="lab" transform="translate(940.2 1711.4) scale(1 1.1)">CDCA7L</text>
<text class="lab" transform="translate(954.1 1740.6) scale(1.04 1.1)">LAMA3</text>
<text class="lab" transform="translate(905.4 1793.1) scale(1 1.1)">TLE6</text>
<text class="lab" transform="translate(900.1 1821.5) scale(1.02 1.1)">EPHA3</text>
<text class="lab" transform="translate(924.9 1880.8) scale(1 1.1)">CA9</text>
<text class="lab" transform="translate(937.9 1926.0) scale(0.961 1.1)">INHA</text>
<text class="lab" transform="translate(1027.8 1926.0) scale(0.92 1.1)">MEOX1</text>
<text class="lab" transform="translate(1117.1 1469.1) scale(1 1.1)">IFI6</text>
<text class="lab" transform="translate(1028.1 1513.3) scale(1.05 1.1)">IGFBP7</text>
<text class="lab" transform="translate(1034.2 1566.5) scale(1.01 1.1)">SBSPON</text>
<text class="lab" transform="translate(1097.0 1632.8) scale(0.941 1.1)">OAS1</text>
<text class="lab" transform="translate(1043.4 1666.8) scale(0.92 1.1)">ACTC1</text>
<text class="lab" transform="translate(1161.0 1696.4) scale(1 1.1)">IFI27</text>
<text class="lab" transform="translate(1057.1 1726.5) scale(1 1.1)">ACP3</text>
<text class="lab" transform="translate(1017.5 1778.1) scale(0.982 1.1)">GABRP</text>
<text class="lab" transform="translate(1026.0 1812.6) scale(0.972 1.1)">METTL24</text>
<text class="lab" transform="translate(1129.9 1840.1) scale(1.04 1.1)">B3GALT2</text>
<text class="lab" transform="translate(1021.1 1858.6) scale(0.941 1.1)">STS</text>
<text class="lab" transform="translate(1020.1 1886.1) scale(0.961 1.1)">KCNG1</text>
<text class="lab" transform="translate(1690.3 1704.2) scale(1 1.1)">FAM120B</text>
<text class="lab" transform="translate(1637.9 1759.2) scale(1.02 1.1)">EHMT2</text>
<text class="lab" transform="translate(1550.6 1832.4) scale(1 1.1)">H2AC19</text>
<path class="axis" d="M133.3 1253.5V2101.0H1811.5"/>
<line class="tick" x1="123.8" y1="2062.2" x2="133.3" y2="2062.2"/>
<text class="ytl" transform="translate(114.6 2073.8) scale(1 1.1)">0</text>
<line class="tick" x1="123.8" y1="1773.5" x2="133.3" y2="1773.5"/>
<text class="ytl" transform="translate(114.6 1785.1) scale(1 1.1)">10</text>
<line class="tick" x1="123.8" y1="1484.8" x2="133.3" y2="1484.8"/>
<text class="ytl" transform="translate(114.6 1496.4) scale(1 1.1)">20</text>
<line class="tick" x1="378.4" y1="2101.0" x2="378.4" y2="2111.0"/>
<text class="xtl" transform="translate(378.4 2142.6) scale(1 1.1)">-20</text>
<line class="tick" x1="681.8" y1="2101.0" x2="681.8" y2="2111.0"/>
<text class="xtl" transform="translate(683.3 2142.6) scale(1 1.1)">-10</text>
<line class="tick" x1="985.2" y1="2101.0" x2="985.2" y2="2111.0"/>
<text class="xtl" transform="translate(985.2 2142.6) scale(1 1.1)">0</text>
<line class="tick" x1="1288.6" y1="2101.0" x2="1288.6" y2="2111.0"/>
<text class="xtl" transform="translate(1290.1 2142.6) scale(1 1.1)">10</text>
<line class="tick" x1="1592.0" y1="2101.0" x2="1592.0" y2="2111.0"/>
<text class="xtl" transform="translate(1592.0 2142.6) scale(1 1.1)">20</text>
<text class="ttl" x="978.4" y="2186.6" text-anchor="middle">Log<tspan class="sub" dy="7">2</tspan><tspan dy="-7"> fold change</tspan></text>
<text class="ttl" transform="translate(50.2 1754.5) rotate(-90)"><tspan class="mn" dy="2.5">−</tspan><tspan dx="-4.5" dy="-2.5"> Log</tspan><tspan class="sub" dx="1" dy="8">10</tspan><tspan dy="-8" dx="6.8" font-style="italic"> P</tspan></text>
<text class="ttl" x="457.5" y="2306.4">Sig</text>
<circle class="g0 lg" cx="560.5" cy="2293.4" r="19.8"/>
<circle class="g1 lg" cx="700.5" cy="2293.4" r="19.8"/>
<circle class="g2 lg" cx="916.6" cy="2293.4" r="19.8"/>
<circle class="g3 lg" cx="1122" cy="2293.4" r="19.8"/>
<text class="leg" x="609.5" y="2304.4">NS</text>
<text class="leg" x="751.0" y="2302.4">Log<tspan class="subl" dx="1.5" dy="6">2</tspan><tspan dy="-6" dx="4"> FC</tspan></text>
<text class="leg" x="966.0" y="2304.4"><tspan class="lc">p-value</tspan></text>
<text class="leg" x="1169.0" y="2302.4"><tspan class="lc">p – value and log</tspan><tspan class="subl" dx="1.4" dy="6">2</tspan><tspan dy="-6" dx="2.1"> FC</tspan></text>
</g>
<rect class="border" x="1.6" y="1232.6" width="1829.4" height="1129.1"/>
</svg>
</body></html>
